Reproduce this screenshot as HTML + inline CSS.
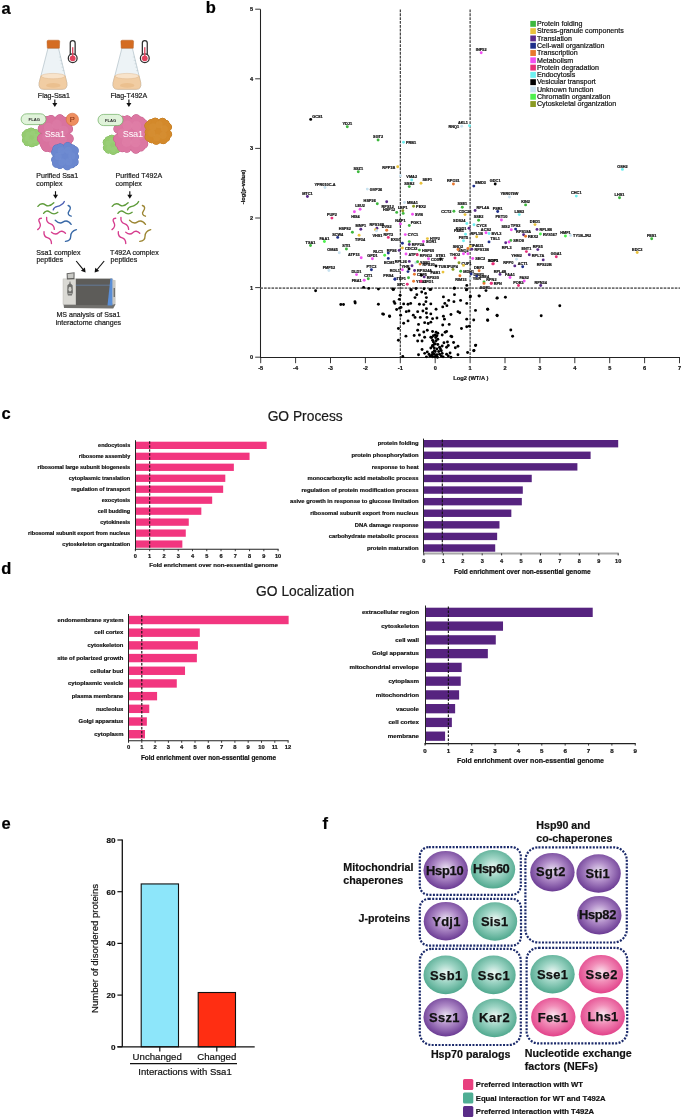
<!DOCTYPE html>
<html><head><meta charset="utf-8"><title>Figure</title>
<style>
html,body{margin:0;padding:0;background:#fff;}
body{width:685px;height:1120px;overflow:hidden;font-family:"Liberation Sans",sans-serif;}
svg{display:block;font-family:"Liberation Sans",sans-serif;will-change:transform;}
</style></head><body>
<svg width="685" height="1120" viewBox="0 0 685 1120">
<rect width="685" height="1120" fill="#fff"/>
<text x="1.5" y="13.6" font-size="16.5" font-weight="bold" text-anchor="start" fill="#000" stroke="#000" stroke-width="0.2">a</text>
<text x="205.8" y="13.4" font-size="16.5" font-weight="bold" text-anchor="start" fill="#000" stroke="#000" stroke-width="0.2">b</text>
<text x="1.5" y="419" font-size="16.5" font-weight="bold" text-anchor="start" fill="#000" stroke="#000" stroke-width="0.2">c</text>
<text x="1.2" y="574.2" font-size="16.5" font-weight="bold" text-anchor="start" fill="#000" stroke="#000" stroke-width="0.2">d</text>
<text x="1.5" y="828.6" font-size="16.5" font-weight="bold" text-anchor="start" fill="#000" stroke="#000" stroke-width="0.2">e</text>
<text x="322.5" y="829.2" font-size="16.5" font-weight="bold" text-anchor="start" fill="#000" stroke="#000" stroke-width="0.2">f</text>
<path d="M48 48.2 L39.2 82.6 Q38.2 89.3 43.8 89.3 L62.3 89.3 Q67.8 89.3 66.8 82.6 L58.5 48.2 Z" fill="#EDF3F6" stroke="#9DB0BA" stroke-width="0.55"/><path d="M41 75.8 L39.2 82.6 Q38.2 89.3 43.8 89.3 L62.3 89.3 Q67.8 89.3 66.8 82.6 L65.1 75.8 Z" fill="#F1CDA3" stroke="#D8AF82" stroke-width="0.5"/><ellipse cx="53.1" cy="76.1" rx="11.9" ry="2.7" fill="#F8E3CA" stroke="#DDB58A" stroke-width="0.45"/><ellipse cx="53.3" cy="85.4" rx="7.2" ry="2.3" fill="#EBC08F"/><line x1="58.9" y1="57" x2="60.9" y2="57" stroke="#AFC0C8" stroke-width="0.4"/><line x1="59.75" y1="60.4" x2="61.75" y2="60.4" stroke="#AFC0C8" stroke-width="0.4"/><line x1="60.6" y1="63.8" x2="62.6" y2="63.8" stroke="#AFC0C8" stroke-width="0.4"/><line x1="61.45" y1="67.2" x2="63.45" y2="67.2" stroke="#AFC0C8" stroke-width="0.4"/><line x1="62.3" y1="70.6" x2="64.3" y2="70.6" stroke="#AFC0C8" stroke-width="0.4"/><path d="M47 41.5 Q47 40.2 48.5 40.2 L58.1 40.2 Q59.7 40.2 59.7 41.5 L59.4 48.2 L47.3 48.2 Z" fill="#D46C22" stroke="#B65C1C" stroke-width="0.45"/><rect x="70.25" y="40.6" width="4.9" height="18" rx="2.45" fill="#fff" stroke="#2f2f2f" stroke-width="1.25"/><circle cx="72.7" cy="58.3" r="4.4" fill="#fff" stroke="#2f2f2f" stroke-width="1.25"/><rect x="70.85" y="55.5" width="3.7" height="3" fill="#fff"/><circle cx="72.7" cy="58.3" r="2.9" fill="#E2435E"/><rect x="72.05" y="47.2" width="1.3" height="10" fill="#E2435E"/>
<path d="M121.9 48.2 L113.1 82.6 Q112.1 89.3 117.7 89.3 L136.2 89.3 Q141.7 89.3 140.7 82.6 L132.4 48.2 Z" fill="#EDF3F6" stroke="#9DB0BA" stroke-width="0.55"/><path d="M114.9 75.8 L113.1 82.6 Q112.1 89.3 117.7 89.3 L136.2 89.3 Q141.7 89.3 140.7 82.6 L139 75.8 Z" fill="#F1CDA3" stroke="#D8AF82" stroke-width="0.5"/><ellipse cx="127" cy="76.1" rx="11.9" ry="2.7" fill="#F8E3CA" stroke="#DDB58A" stroke-width="0.45"/><ellipse cx="127.2" cy="85.4" rx="7.2" ry="2.3" fill="#EBC08F"/><line x1="132.8" y1="57" x2="134.8" y2="57" stroke="#AFC0C8" stroke-width="0.4"/><line x1="133.65" y1="60.4" x2="135.65" y2="60.4" stroke="#AFC0C8" stroke-width="0.4"/><line x1="134.5" y1="63.8" x2="136.5" y2="63.8" stroke="#AFC0C8" stroke-width="0.4"/><line x1="135.35" y1="67.2" x2="137.35" y2="67.2" stroke="#AFC0C8" stroke-width="0.4"/><line x1="136.2" y1="70.6" x2="138.2" y2="70.6" stroke="#AFC0C8" stroke-width="0.4"/><path d="M120.9 41.5 Q120.9 40.2 122.4 40.2 L132 40.2 Q133.6 40.2 133.6 41.5 L133.3 48.2 L121.2 48.2 Z" fill="#D46C22" stroke="#B65C1C" stroke-width="0.45"/><rect x="142.35" y="40.6" width="4.9" height="18" rx="2.45" fill="#fff" stroke="#2f2f2f" stroke-width="1.25"/><circle cx="144.8" cy="58.3" r="4.4" fill="#fff" stroke="#2f2f2f" stroke-width="1.25"/><rect x="142.95" y="55.5" width="3.7" height="3" fill="#fff"/><circle cx="144.8" cy="58.3" r="2.9" fill="#E2435E"/><rect x="144.15" y="47.2" width="1.3" height="10" fill="#E2435E"/>
<text x="53.9" y="98" font-size="7.05" text-anchor="middle" fill="#1a1a1a" stroke="#1a1a1a" stroke-width="0.2">Flag-Ssa1</text>
<text x="128.8" y="98" font-size="7.05" text-anchor="middle" fill="#1a1a1a" stroke="#1a1a1a" stroke-width="0.2">Flag-T492A</text>
<line x1="54.8" y1="99.6" x2="54.8" y2="103.5" stroke="#111" stroke-width="1.15"/><path d="M54.8 107L52.3 103L57.3 103Z" fill="#111"/>
<line x1="128.9" y1="99.6" x2="128.9" y2="103.5" stroke="#111" stroke-width="1.15"/><path d="M128.9 107L126.4 103L131.4 103Z" fill="#111"/>
<g fill="#7FB85C" stroke="#7FB85C" stroke-width="1"><rect x="25.16" y="131.46" width="12.68" height="12.08" rx="3.4"/><circle cx="37.32" cy="140.03" r="3.81"/><circle cx="35.76" cy="142.41" r="3.04"/><circle cx="31.85" cy="143.2" r="3.64"/><circle cx="27.35" cy="142.48" r="3.33"/><circle cx="25.72" cy="140.18" r="3.29"/><circle cx="25.68" cy="134.97" r="3.67"/><circle cx="27.24" cy="132.59" r="3.03"/><circle cx="31.15" cy="131.8" r="3.81"/><circle cx="35.65" cy="132.52" r="3.03"/><circle cx="37.28" cy="134.82" r="3.65"/></g><g fill="#95CB70"><rect x="25.16" y="131.46" width="12.68" height="12.08" rx="3.4"/><circle cx="37.32" cy="140.03" r="3.81"/><circle cx="35.76" cy="142.41" r="3.04"/><circle cx="31.85" cy="143.2" r="3.64"/><circle cx="27.35" cy="142.48" r="3.33"/><circle cx="25.72" cy="140.18" r="3.29"/><circle cx="25.68" cy="134.97" r="3.67"/><circle cx="27.24" cy="132.59" r="3.03"/><circle cx="31.15" cy="131.8" r="3.81"/><circle cx="35.65" cy="132.52" r="3.03"/><circle cx="37.28" cy="134.82" r="3.65"/></g><circle cx="34.77" cy="140.76" r="2.55" fill="#A8D68A" opacity="0.25"/><circle cx="30.22" cy="141.88" r="2.55" fill="#A8D68A" opacity="0.25"/><circle cx="26.94" cy="138.61" r="2.55" fill="#A8D68A" opacity="0.25"/><circle cx="28.23" cy="134.24" r="2.55" fill="#A8D68A" opacity="0.25"/><circle cx="32.78" cy="133.12" r="2.55" fill="#A8D68A" opacity="0.25"/><circle cx="36.06" cy="136.39" r="2.55" fill="#A8D68A" opacity="0.25"/>
<g fill="#C65C8B" stroke="#C65C8B" stroke-width="1"><rect x="41.76" y="118.96" width="27.28" height="29.68" rx="4.4"/><circle cx="68.42" cy="138.7" r="4.84"/><circle cx="67.05" cy="143.57" r="4.12"/><circle cx="64.29" cy="146.55" r="4.46"/><circle cx="59.79" cy="148.02" r="4.57"/><circle cx="50.91" cy="148.01" r="4.03"/><circle cx="46.45" cy="146.51" r="4.89"/><circle cx="43.71" cy="143.5" r="3.87"/><circle cx="42.36" cy="138.58" r="4.86"/><circle cx="42.38" cy="128.9" r="4.1"/><circle cx="43.75" cy="124.03" r="4.49"/><circle cx="46.51" cy="121.05" r="4.54"/><circle cx="51.01" cy="119.58" r="4.05"/><circle cx="59.89" cy="119.59" r="4.88"/><circle cx="64.35" cy="121.09" r="3.87"/><circle cx="67.09" cy="124.1" r="4.87"/><circle cx="68.44" cy="129.02" r="4.08"/></g><g fill="#D9739F"><rect x="41.76" y="118.96" width="27.28" height="29.68" rx="4.4"/><circle cx="68.42" cy="138.7" r="4.84"/><circle cx="67.05" cy="143.57" r="4.12"/><circle cx="64.29" cy="146.55" r="4.46"/><circle cx="59.79" cy="148.02" r="4.57"/><circle cx="50.91" cy="148.01" r="4.03"/><circle cx="46.45" cy="146.51" r="4.89"/><circle cx="43.71" cy="143.5" r="3.87"/><circle cx="42.36" cy="138.58" r="4.86"/><circle cx="42.38" cy="128.9" r="4.1"/><circle cx="43.75" cy="124.03" r="4.49"/><circle cx="46.51" cy="121.05" r="4.54"/><circle cx="51.01" cy="119.58" r="4.05"/><circle cx="59.89" cy="119.59" r="4.88"/><circle cx="64.35" cy="121.09" r="3.87"/><circle cx="67.09" cy="124.1" r="4.87"/><circle cx="68.44" cy="129.02" r="4.08"/></g><circle cx="62.13" cy="139.86" r="4.93" fill="#E48BB2" opacity="0.25"/><circle cx="53.86" cy="143.05" r="4.93" fill="#E48BB2" opacity="0.25"/><circle cx="47.13" cy="137" r="4.93" fill="#E48BB2" opacity="0.25"/><circle cx="48.67" cy="127.74" r="4.93" fill="#E48BB2" opacity="0.25"/><circle cx="56.94" cy="124.55" r="4.93" fill="#E48BB2" opacity="0.25"/><circle cx="63.67" cy="130.6" r="4.93" fill="#E48BB2" opacity="0.25"/>
<g fill="#5874BE" stroke="#5874BE" stroke-width="1"><rect x="54.72" y="146.42" width="20.56" height="19.56" rx="3.8"/><circle cx="74.07" cy="161.96" r="4.07"/><circle cx="71.68" cy="164.52" r="3.4"/><circle cx="67.19" cy="165.57" r="4.26"/><circle cx="59.9" cy="165.15" r="3.38"/><circle cx="56.76" cy="163.26" r="4.11"/><circle cx="55.27" cy="159.66" r="3.67"/><circle cx="55.32" cy="152.42" r="3.73"/><circle cx="56.92" cy="148.96" r="4.05"/><circle cx="60.19" cy="147.17" r="3.41"/><circle cx="67.63" cy="146.86" r="4.25"/><circle cx="71.9" cy="148.01" r="3.37"/><circle cx="74.18" cy="150.68" r="4.12"/><circle cx="74.9" cy="156.81" r="3.65"/></g><g fill="#6A87CF"><rect x="54.72" y="146.42" width="20.56" height="19.56" rx="3.8"/><circle cx="74.07" cy="161.96" r="4.07"/><circle cx="71.68" cy="164.52" r="3.4"/><circle cx="67.19" cy="165.57" r="4.26"/><circle cx="59.9" cy="165.15" r="3.38"/><circle cx="56.76" cy="163.26" r="4.11"/><circle cx="55.27" cy="159.66" r="3.67"/><circle cx="55.32" cy="152.42" r="3.73"/><circle cx="56.92" cy="148.96" r="4.05"/><circle cx="60.19" cy="147.17" r="3.41"/><circle cx="67.63" cy="146.86" r="4.25"/><circle cx="71.9" cy="148.01" r="3.37"/><circle cx="74.18" cy="150.68" r="4.12"/><circle cx="74.9" cy="156.81" r="3.65"/></g><circle cx="68.7" cy="161.75" r="3.7" fill="#7C97D8" opacity="0.25"/><circle cx="61.86" cy="162.07" r="3.7" fill="#7C97D8" opacity="0.25"/><circle cx="58.16" cy="156.51" r="3.7" fill="#7C97D8" opacity="0.25"/><circle cx="61.3" cy="150.65" r="3.7" fill="#7C97D8" opacity="0.25"/><circle cx="68.14" cy="150.33" r="3.7" fill="#7C97D8" opacity="0.25"/><circle cx="71.84" cy="155.89" r="3.7" fill="#7C97D8" opacity="0.25"/>
<rect x="21.1" y="113.8" width="24.9" height="10.8" rx="5.4" fill="#E0F3DA" stroke="#6CAE5F" stroke-width="0.7"/>
<text x="34.3" y="120.8" font-size="4.2" font-weight="bold" text-anchor="middle" fill="#2a2a2a">FLAG</text>
<circle cx="72.3" cy="119.4" r="6.2" fill="#EE8E5F" stroke="#D36B3C" stroke-width="0.6"/>
<text x="72.3" y="122.3" font-size="7.6" text-anchor="middle" fill="#8A3515" stroke="#8A3515" stroke-width="0.1">P</text>
<text x="44.7" y="136.6" font-size="9.2" fill="#fff" letter-spacing="-0.2">Ssa1</text>
<g fill="#7FB85C" stroke="#7FB85C" stroke-width="1"><rect x="106.16" y="138.56" width="12.68" height="12.48" rx="3.4"/><circle cx="116.87" cy="149.81" r="3"/><circle cx="113.23" cy="150.7" r="3.72"/><circle cx="108.46" cy="150.02" r="3.21"/><circle cx="106.75" cy="147.73" r="3.41"/><circle cx="106.65" cy="142.35" r="3.56"/><circle cx="108.13" cy="139.79" r="3.09"/><circle cx="111.77" cy="138.9" r="3.79"/><circle cx="116.54" cy="139.58" r="3"/><circle cx="118.25" cy="141.87" r="3.74"/><circle cx="118.35" cy="147.25" r="3.2"/></g><g fill="#95CB70"><rect x="106.16" y="138.56" width="12.68" height="12.48" rx="3.4"/><circle cx="116.87" cy="149.81" r="3"/><circle cx="113.23" cy="150.7" r="3.72"/><circle cx="108.46" cy="150.02" r="3.21"/><circle cx="106.75" cy="147.73" r="3.41"/><circle cx="106.65" cy="142.35" r="3.56"/><circle cx="108.13" cy="139.79" r="3.09"/><circle cx="111.77" cy="138.9" r="3.79"/><circle cx="116.54" cy="139.58" r="3"/><circle cx="118.25" cy="141.87" r="3.74"/><circle cx="118.35" cy="147.25" r="3.2"/></g><circle cx="113.3" cy="149.38" r="2.6" fill="#A8D68A" opacity="0.25"/><circle cx="108.89" cy="147.78" r="2.6" fill="#A8D68A" opacity="0.25"/><circle cx="108.09" cy="143.19" r="2.6" fill="#A8D68A" opacity="0.25"/><circle cx="111.7" cy="140.22" r="2.6" fill="#A8D68A" opacity="0.25"/><circle cx="116.11" cy="141.82" r="2.6" fill="#A8D68A" opacity="0.25"/><circle cx="116.91" cy="146.41" r="2.6" fill="#A8D68A" opacity="0.25"/>
<g fill="#C65C8B" stroke="#C65C8B" stroke-width="1"><rect x="117.66" y="118.96" width="27.68" height="30.08" rx="4.4"/><circle cx="143.29" cy="143.97" r="4.47"/><circle cx="140.46" cy="146.97" r="4.11"/><circle cx="135.84" cy="148.43" r="4.85"/><circle cx="126.83" cy="148.39" r="3.87"/><circle cx="122.35" cy="146.85" r="4.9"/><circle cx="119.59" cy="143.76" r="4.02"/><circle cx="118.25" cy="138.73" r="4.58"/><circle cx="118.29" cy="128.91" r="4.45"/><circle cx="119.71" cy="124.03" r="4.13"/><circle cx="122.54" cy="121.03" r="4.84"/><circle cx="127.16" cy="119.57" r="3.88"/><circle cx="136.17" cy="119.61" r="4.91"/><circle cx="140.65" cy="121.15" r="4.01"/><circle cx="143.41" cy="124.24" r="4.61"/><circle cx="144.75" cy="129.27" r="4.42"/><circle cx="144.71" cy="139.09" r="4.16"/></g><g fill="#DC77A2"><rect x="117.66" y="118.96" width="27.68" height="30.08" rx="4.4"/><circle cx="143.29" cy="143.97" r="4.47"/><circle cx="140.46" cy="146.97" r="4.11"/><circle cx="135.84" cy="148.43" r="4.85"/><circle cx="126.83" cy="148.39" r="3.87"/><circle cx="122.35" cy="146.85" r="4.9"/><circle cx="119.59" cy="143.76" r="4.02"/><circle cx="118.25" cy="138.73" r="4.58"/><circle cx="118.29" cy="128.91" r="4.45"/><circle cx="119.71" cy="124.03" r="4.13"/><circle cx="122.54" cy="121.03" r="4.84"/><circle cx="127.16" cy="119.57" r="3.88"/><circle cx="136.17" cy="119.61" r="4.91"/><circle cx="140.65" cy="121.15" r="4.01"/><circle cx="143.41" cy="124.24" r="4.61"/><circle cx="144.75" cy="129.27" r="4.42"/><circle cx="144.71" cy="139.09" r="4.16"/></g><circle cx="135.54" cy="142.47" r="4.98" fill="#E68FB5" opacity="0.25"/><circle cx="126.65" cy="141.97" r="4.98" fill="#E68FB5" opacity="0.25"/><circle cx="122.61" cy="133.5" r="4.98" fill="#E68FB5" opacity="0.25"/><circle cx="127.46" cy="125.53" r="4.98" fill="#E68FB5" opacity="0.25"/><circle cx="136.35" cy="126.03" r="4.98" fill="#E68FB5" opacity="0.25"/><circle cx="140.39" cy="134.5" r="4.98" fill="#E68FB5" opacity="0.25"/>
<g fill="#BD761C" stroke="#BD761C" stroke-width="1"><rect x="148.02" y="121.42" width="19.96" height="19.36" rx="3.8"/><circle cx="167.47" cy="134.27" r="4.18"/><circle cx="166.1" cy="137.94" r="3.56"/><circle cx="163.15" cy="139.89" r="3.85"/><circle cx="156.23" cy="140.38" r="3.95"/><circle cx="151.69" cy="139.42" r="3.48"/><circle cx="149.28" cy="136.97" r="4.23"/><circle cx="148.41" cy="132.22" r="3.35"/><circle cx="149.02" cy="125.82" r="4.2"/><circle cx="151.16" cy="123.09" r="3.54"/><circle cx="155.15" cy="121.88" r="3.88"/><circle cx="162.45" cy="122.12" r="3.92"/><circle cx="165.71" cy="123.81" r="3.5"/><circle cx="167.34" cy="127.12" r="4.22"/></g><g fill="#D3892B"><rect x="148.02" y="121.42" width="19.96" height="19.36" rx="3.8"/><circle cx="167.47" cy="134.27" r="4.18"/><circle cx="166.1" cy="137.94" r="3.56"/><circle cx="163.15" cy="139.89" r="3.85"/><circle cx="156.23" cy="140.38" r="3.95"/><circle cx="151.69" cy="139.42" r="3.48"/><circle cx="149.28" cy="136.97" r="4.23"/><circle cx="148.41" cy="132.22" r="3.35"/><circle cx="149.02" cy="125.82" r="4.2"/><circle cx="151.16" cy="123.09" r="3.54"/><circle cx="155.15" cy="121.88" r="3.88"/><circle cx="162.45" cy="122.12" r="3.92"/><circle cx="165.71" cy="123.81" r="3.5"/><circle cx="167.34" cy="127.12" r="4.22"/></g><circle cx="163.12" cy="135.32" r="3.67" fill="#DD9A45" opacity="0.25"/><circle cx="156.82" cy="137.55" r="3.67" fill="#DD9A45" opacity="0.25"/><circle cx="151.7" cy="133.33" r="3.67" fill="#DD9A45" opacity="0.25"/><circle cx="152.88" cy="126.88" r="3.67" fill="#DD9A45" opacity="0.25"/><circle cx="159.18" cy="124.65" r="3.67" fill="#DD9A45" opacity="0.25"/><circle cx="164.3" cy="128.87" r="3.67" fill="#DD9A45" opacity="0.25"/>
<rect x="98" y="114.4" width="25" height="11.2" rx="5.6" fill="#E0F3DA" stroke="#6CAE5F" stroke-width="0.7"/>
<text x="110.6" y="121.6" font-size="4.2" font-weight="bold" text-anchor="middle" fill="#2a2a2a">FLAG</text>
<text x="122.8" y="136.6" font-size="9.2" fill="#fff" letter-spacing="-0.2">Ssa1</text>
<text x="36.3" y="178" font-size="7.05" text-anchor="start" fill="#1a1a1a" stroke="#1a1a1a" stroke-width="0.2">Purified Ssa1</text>
<text x="36.3" y="185.7" font-size="7.05" text-anchor="start" fill="#1a1a1a" stroke="#1a1a1a" stroke-width="0.2">complex</text>
<text x="115.6" y="177.6" font-size="7.05" text-anchor="start" fill="#1a1a1a" stroke="#1a1a1a" stroke-width="0.2">Purified T492A</text>
<text x="115.6" y="185.8" font-size="7.05" text-anchor="start" fill="#1a1a1a" stroke="#1a1a1a" stroke-width="0.2">complex</text>
<line x1="55.5" y1="191.2" x2="55.5" y2="195.3" stroke="#111" stroke-width="1.15"/><path d="M55.5 198.8L53 194.8L58 194.8Z" fill="#111"/>
<line x1="129.8" y1="191.2" x2="129.8" y2="195.3" stroke="#111" stroke-width="1.15"/><path d="M129.8 198.8L127.3 194.8L132.3 194.8Z" fill="#111"/>
<g transform="translate(30 195) scale(0.08759)" fill="none" stroke-width="15.5" stroke-linecap="round"><path d="M90,130 C120,90 150,95 180,115 C210,135 240,120 272,88" stroke="#5E9B3A"/><path d="M265,170 C275,130 310,135 335,125 C360,115 380,110 392,75" stroke="#4D5FB4"/><path d="M435,120 C470,130 465,160 445,185 C425,210 440,235 470,242" stroke="#3868A6"/><path d="M155,210 C175,180 200,175 225,195 C250,215 285,225 318,198" stroke="#5E9B3A"/><path d="M130,265 C95,265 95,290 110,315 C125,340 120,370 88,395" stroke="#D63D8E"/><path d="M190,255 C185,300 200,320 235,330 C265,340 275,360 278,392" stroke="#D63D8E"/><path d="M288,288 C310,310 340,335 375,310 C410,285 445,300 470,335" stroke="#3868A6"/><path d="M160,420 C155,460 170,480 205,490 C240,500 245,525 245,555" stroke="#D63D8E"/><path d="M245,425 C270,445 300,455 325,430 C350,405 380,410 405,437" stroke="#D63D8E"/><path d="M405,530 C445,525 465,510 465,470 C465,430 495,405 530,395" stroke="#3868A6"/></g>
<g transform="translate(104.3 195) scale(0.08759)" fill="none" stroke-width="15.5" stroke-linecap="round"><path d="M90,130 C120,90 150,95 180,115 C210,135 240,120 272,88" stroke="#5E9B3A"/><path d="M265,170 C275,130 310,135 335,125 C360,115 380,110 392,75" stroke="#5E9B3A"/><path d="M435,120 C470,130 465,160 445,185 C425,210 440,235 470,242" stroke="#9C8633"/><path d="M155,210 C175,180 200,175 225,195 C250,215 285,225 318,198" stroke="#5E9B3A"/><path d="M130,265 C95,265 95,290 110,315 C125,340 120,370 88,395" stroke="#D63D8E"/><path d="M190,255 C185,300 200,320 235,330 C265,340 275,360 278,392" stroke="#D63D8E"/><path d="M288,288 C310,310 340,335 375,310 C410,285 445,300 470,335" stroke="#9C8633"/><path d="M160,420 C155,460 170,480 205,490 C240,500 245,525 245,555" stroke="#D63D8E"/><path d="M245,425 C270,445 300,455 325,430 C350,405 380,410 405,437" stroke="#D63D8E"/><path d="M405,530 C445,525 465,510 465,470 C465,430 495,405 530,395" stroke="#9C8633"/></g>
<text x="36.2" y="254.9" font-size="7.05" text-anchor="start" fill="#1a1a1a" stroke="#1a1a1a" stroke-width="0.2">Ssa1 complex</text>
<text x="36.4" y="262.2" font-size="7.05" text-anchor="start" fill="#1a1a1a" stroke="#1a1a1a" stroke-width="0.2">peptides</text>
<text x="110.1" y="254.9" font-size="7.05" text-anchor="start" fill="#1a1a1a" stroke="#1a1a1a" stroke-width="0.2">T492A complex</text>
<text x="110.6" y="262.2" font-size="7.05" text-anchor="start" fill="#1a1a1a" stroke="#1a1a1a" stroke-width="0.2">peptides</text>
<line x1="76.2" y1="261" x2="83.25" y2="269.55" stroke="#111" stroke-width="1.15"/><path d="M85.6 272.4L80.92 270.81L84.93 267.51Z" fill="#111"/>
<line x1="104.2" y1="261" x2="96.96" y2="269.75" stroke="#111" stroke-width="1.15"/><path d="M94.6 272.6L95.27 267.71L99.28 271.02Z" fill="#111"/>
<path d="M63.4 303.6 L112.5 303.6 L115.6 304.2 L113.2 308.6 L64.0 307.9 Z" fill="#72716E"/>
<rect x="63" y="278.9" width="13" height="25.8" fill="#DAD9D4" stroke="#B3B2AD" stroke-width="0.4"/>
<rect x="75.9" y="278.6" width="36.5" height="26.5" fill="#5D5C59"/>
<path d="M112.3 279.4 L115.6 280.3 L115.6 303.8 L112.3 305 Z" fill="#C9C8C3"/>
<rect x="113.6" y="288" width="1.3" height="9" fill="#6a6a67"/>
<line x1="75.9" y1="285.2" x2="110.8" y2="285.2" stroke="#6B98D6" stroke-width="0.5"/>
<path d="M110.4 278.5 L112.4 278.8 L112.4 305.4 L107.5 305.4 Z" fill="#5A8ED6"/>
<path d="M66.6 273.2 L74.6 272.2 L74.5 279.2 L66.9 279.6 Z" fill="#5E5E5C"/>
<path d="M67.6 274.0 L73.6 273.3 L73.5 278.0 L67.8 278.3 Z" fill="#C9C9C5"/>
<path d="M69.6 281.4 L70.4 281.4 L70.6 283.6 L72.6 285.2 L72.9 292.5 L71.8 295.6 L67.9 295.6 L67.2 292.5 L67.4 285.2 L69.4 283.6 Z" fill="#6F6F6C"/>
<ellipse cx="70" cy="289.2" rx="1.5" ry="2.4" fill="#CFCFCA"/>
<rect x="68.2" y="293" width="3.6" height="1.2" fill="#A9A9A5"/>
<text x="88.4" y="317.4" font-size="7.05" text-anchor="middle" fill="#1a1a1a" stroke="#1a1a1a" stroke-width="0.2">MS analysis of Ssa1</text>
<text x="88.4" y="325.4" font-size="7.05" text-anchor="middle" fill="#1a1a1a" stroke="#1a1a1a" stroke-width="0.2">interactome changes</text>
<line x1="260.5" y1="9.2" x2="260.5" y2="358" stroke="#222" stroke-width="1.05"/>
<line x1="260" y1="357.5" x2="680" y2="357.5" stroke="#222" stroke-width="1.05"/>
<line x1="255.2" y1="357.2" x2="260.4" y2="357.2" stroke="#222" stroke-width="0.9"/>
<text x="253" y="359.1" font-size="5.6" font-weight="bold" text-anchor="end" fill="#111" stroke="#111" stroke-width="0.2">0</text>
<line x1="255.2" y1="287.6" x2="260.4" y2="287.6" stroke="#222" stroke-width="0.9"/>
<text x="253" y="289.5" font-size="5.6" font-weight="bold" text-anchor="end" fill="#111" stroke="#111" stroke-width="0.2">1</text>
<line x1="255.2" y1="218" x2="260.4" y2="218" stroke="#222" stroke-width="0.9"/>
<text x="253" y="219.9" font-size="5.6" font-weight="bold" text-anchor="end" fill="#111" stroke="#111" stroke-width="0.2">2</text>
<line x1="255.2" y1="148.4" x2="260.4" y2="148.4" stroke="#222" stroke-width="0.9"/>
<text x="253" y="150.3" font-size="5.6" font-weight="bold" text-anchor="end" fill="#111" stroke="#111" stroke-width="0.2">3</text>
<line x1="255.2" y1="78.8" x2="260.4" y2="78.8" stroke="#222" stroke-width="0.9"/>
<text x="253" y="80.7" font-size="5.6" font-weight="bold" text-anchor="end" fill="#111" stroke="#111" stroke-width="0.2">4</text>
<line x1="255.2" y1="9.2" x2="260.4" y2="9.2" stroke="#222" stroke-width="0.9"/>
<text x="253" y="11.1" font-size="5.6" font-weight="bold" text-anchor="end" fill="#111" stroke="#111" stroke-width="0.2">5</text>
<line x1="260.7" y1="357.2" x2="260.7" y2="363.2" stroke="#222" stroke-width="0.9"/>
<text x="260.7" y="369.9" font-size="5.6" font-weight="bold" text-anchor="middle" fill="#111" stroke="#111" stroke-width="0.2">-5</text>
<line x1="295.6" y1="357.2" x2="295.6" y2="363.2" stroke="#222" stroke-width="0.9"/>
<text x="295.6" y="369.9" font-size="5.6" font-weight="bold" text-anchor="middle" fill="#111" stroke="#111" stroke-width="0.2">-4</text>
<line x1="330.5" y1="357.2" x2="330.5" y2="363.2" stroke="#222" stroke-width="0.9"/>
<text x="330.5" y="369.9" font-size="5.6" font-weight="bold" text-anchor="middle" fill="#111" stroke="#111" stroke-width="0.2">-3</text>
<line x1="365.4" y1="357.2" x2="365.4" y2="363.2" stroke="#222" stroke-width="0.9"/>
<text x="365.4" y="369.9" font-size="5.6" font-weight="bold" text-anchor="middle" fill="#111" stroke="#111" stroke-width="0.2">-2</text>
<line x1="400.3" y1="357.2" x2="400.3" y2="363.2" stroke="#222" stroke-width="0.9"/>
<text x="400.3" y="369.9" font-size="5.6" font-weight="bold" text-anchor="middle" fill="#111" stroke="#111" stroke-width="0.2">-1</text>
<line x1="435.2" y1="357.2" x2="435.2" y2="363.2" stroke="#222" stroke-width="0.9"/>
<text x="435.2" y="369.9" font-size="5.6" font-weight="bold" text-anchor="middle" fill="#111" stroke="#111" stroke-width="0.2">0</text>
<line x1="470.1" y1="357.2" x2="470.1" y2="363.2" stroke="#222" stroke-width="0.9"/>
<text x="470.1" y="369.9" font-size="5.6" font-weight="bold" text-anchor="middle" fill="#111" stroke="#111" stroke-width="0.2">1</text>
<line x1="505" y1="357.2" x2="505" y2="363.2" stroke="#222" stroke-width="0.9"/>
<text x="505" y="369.9" font-size="5.6" font-weight="bold" text-anchor="middle" fill="#111" stroke="#111" stroke-width="0.2">2</text>
<line x1="539.9" y1="357.2" x2="539.9" y2="363.2" stroke="#222" stroke-width="0.9"/>
<text x="539.9" y="369.9" font-size="5.6" font-weight="bold" text-anchor="middle" fill="#111" stroke="#111" stroke-width="0.2">3</text>
<line x1="574.8" y1="357.2" x2="574.8" y2="363.2" stroke="#222" stroke-width="0.9"/>
<text x="574.8" y="369.9" font-size="5.6" font-weight="bold" text-anchor="middle" fill="#111" stroke="#111" stroke-width="0.2">4</text>
<line x1="609.7" y1="357.2" x2="609.7" y2="363.2" stroke="#222" stroke-width="0.9"/>
<text x="609.7" y="369.9" font-size="5.6" font-weight="bold" text-anchor="middle" fill="#111" stroke="#111" stroke-width="0.2">5</text>
<line x1="644.6" y1="357.2" x2="644.6" y2="363.2" stroke="#222" stroke-width="0.9"/>
<text x="644.6" y="369.9" font-size="5.6" font-weight="bold" text-anchor="middle" fill="#111" stroke="#111" stroke-width="0.2">6</text>
<line x1="679.5" y1="357.2" x2="679.5" y2="363.2" stroke="#222" stroke-width="0.9"/>
<text x="679.5" y="369.9" font-size="5.6" font-weight="bold" text-anchor="middle" fill="#111" stroke="#111" stroke-width="0.2">7</text>
<text x="470.8" y="380.2" font-size="5.75" font-weight="bold" text-anchor="middle" fill="#111" stroke="#111" stroke-width="0.2">Log2 (WT/A )</text>
<text x="0" y="0" font-size="5.75" font-weight="bold" text-anchor="middle" fill="#111" stroke="#111" stroke-width="0.2" transform="translate(245.2 187) rotate(-90)">-log(p-value)</text>
<line x1="400.3" y1="9.5" x2="400.3" y2="357.2" stroke="#222" stroke-width="1.05" stroke-dasharray="2.8 1.05"/>
<line x1="470.1" y1="9.5" x2="470.1" y2="357.2" stroke="#222" stroke-width="1.05" stroke-dasharray="2.8 1.05"/>
<line x1="260.4" y1="288.1" x2="680" y2="288.1" stroke="#707070" stroke-width="1.9" stroke-dasharray="2.6 1.1"/>
<circle cx="315.6" cy="290.7" r="1.45"/>
<circle cx="340.8" cy="304.5" r="1.45"/>
<circle cx="343.5" cy="304.5" r="1.45"/>
<circle cx="354.9" cy="301.8" r="1.45"/>
<circle cx="355.2" cy="303" r="1.45"/>
<circle cx="378.4" cy="304.2" r="1.45"/>
<circle cx="363.6" cy="287.4" r="1.45"/>
<circle cx="368.7" cy="288.4" r="1.45"/>
<circle cx="378.4" cy="289.1" r="1.45"/>
<circle cx="383.5" cy="314.3" r="1.45"/>
<circle cx="389.5" cy="315.9" r="1.45"/>
<circle cx="393.5" cy="289.4" r="1.45"/>
<circle cx="466.8" cy="285.4" r="1.45"/>
<circle cx="470.4" cy="296.1" r="1.45"/>
<circle cx="479.3" cy="296.1" r="1.45"/>
<circle cx="497.2" cy="297.9" r="1.45"/>
<circle cx="505.4" cy="297.2" r="1.45"/>
<circle cx="559.8" cy="305.8" r="1.45"/>
<circle cx="487.6" cy="309.3" r="1.45"/>
<circle cx="541.2" cy="315.8" r="1.45"/>
<circle cx="497.2" cy="315.8" r="1.45"/>
<circle cx="487.6" cy="320" r="1.45"/>
<circle cx="510.8" cy="330" r="1.45"/>
<circle cx="512.6" cy="336.2" r="1.45"/>
<circle cx="475.8" cy="345.1" r="1.45"/>
<circle cx="474" cy="350.5" r="1.45"/>
<circle cx="392.9" cy="289" r="1.45"/>
<circle cx="410.9" cy="289.8" r="1.45"/>
<circle cx="430" cy="289.5" r="1.45"/>
<circle cx="454.2" cy="288.2" r="1.45"/>
<circle cx="466.8" cy="289.5" r="1.45"/>
<circle cx="416" cy="288.5" r="1.45"/>
<circle cx="424" cy="288.8" r="1.45"/>
<circle cx="393.14" cy="289.38" r="1.45"/>
<circle cx="411.18" cy="289.91" r="1.45"/>
<circle cx="430.81" cy="289.38" r="1.45"/>
<circle cx="454.46" cy="288.15" r="1.45"/>
<circle cx="466.37" cy="289.91" r="1.45"/>
<circle cx="485.99" cy="290.61" r="1.45"/>
<circle cx="400.15" cy="295.16" r="1.45"/>
<circle cx="416.79" cy="294.64" r="1.45"/>
<circle cx="421.7" cy="292.01" r="1.45"/>
<circle cx="425.55" cy="293.41" r="1.45"/>
<circle cx="426.43" cy="297.61" r="1.45"/>
<circle cx="415.04" cy="297.61" r="1.45"/>
<circle cx="443.42" cy="296.91" r="1.45"/>
<circle cx="454.46" cy="294.64" r="1.45"/>
<circle cx="470.22" cy="296.91" r="1.45"/>
<circle cx="478.98" cy="295.86" r="1.45"/>
<circle cx="497.03" cy="298.14" r="1.45"/>
<circle cx="394.02" cy="301.64" r="1.45"/>
<circle cx="394.89" cy="303.4" r="1.45"/>
<circle cx="399.27" cy="299.37" r="1.45"/>
<circle cx="403.65" cy="303.92" r="1.45"/>
<circle cx="408.03" cy="304.27" r="1.45"/>
<circle cx="410.66" cy="303.4" r="1.45"/>
<circle cx="419.42" cy="304.27" r="1.45"/>
<circle cx="423.8" cy="304.62" r="1.45"/>
<circle cx="425.9" cy="301.64" r="1.45"/>
<circle cx="430.81" cy="303.92" r="1.45"/>
<circle cx="448.68" cy="300.42" r="1.45"/>
<circle cx="453.93" cy="301.64" r="1.45"/>
<circle cx="460.59" cy="300.42" r="1.45"/>
<circle cx="466.72" cy="303.4" r="1.45"/>
<circle cx="444.82" cy="303.4" r="1.45"/>
<circle cx="446.92" cy="305.67" r="1.45"/>
<circle cx="442.72" cy="306.9" r="1.45"/>
<circle cx="396.64" cy="309.53" r="1.45"/>
<circle cx="399.62" cy="308.13" r="1.45"/>
<circle cx="401.02" cy="307.42" r="1.45"/>
<circle cx="406.28" cy="311.63" r="1.45"/>
<circle cx="408.91" cy="310.93" r="1.45"/>
<circle cx="417.67" cy="311.63" r="1.45"/>
<circle cx="422.92" cy="310.93" r="1.45"/>
<circle cx="426.43" cy="308.65" r="1.45"/>
<circle cx="426.43" cy="313.03" r="1.45"/>
<circle cx="430.81" cy="313.91" r="1.45"/>
<circle cx="436.06" cy="309.18" r="1.45"/>
<circle cx="457.96" cy="311.63" r="1.45"/>
<circle cx="459.71" cy="312.68" r="1.45"/>
<circle cx="475.48" cy="310.4" r="1.45"/>
<circle cx="487.74" cy="309.18" r="1.45"/>
<circle cx="382.63" cy="313.91" r="1.45"/>
<circle cx="389.64" cy="316.53" r="1.45"/>
<circle cx="400.67" cy="315.13" r="1.45"/>
<circle cx="413.29" cy="315.13" r="1.45"/>
<circle cx="415.04" cy="317.41" r="1.45"/>
<circle cx="420.29" cy="317.41" r="1.45"/>
<circle cx="426.95" cy="317.41" r="1.45"/>
<circle cx="432.56" cy="318.64" r="1.45"/>
<circle cx="436.94" cy="317.94" r="1.45"/>
<circle cx="443.42" cy="316.18" r="1.45"/>
<circle cx="444.47" cy="319.16" r="1.45"/>
<circle cx="450.95" cy="314.43" r="1.45"/>
<circle cx="466.72" cy="319.16" r="1.45"/>
<circle cx="473.73" cy="320.04" r="1.45"/>
<circle cx="487.74" cy="320.39" r="1.45"/>
<circle cx="497.03" cy="315.13" r="1.45"/>
<circle cx="403.65" cy="323.19" r="1.45"/>
<circle cx="408.03" cy="320.91" r="1.45"/>
<circle cx="418.54" cy="324.42" r="1.45"/>
<circle cx="424.67" cy="322.67" r="1.45"/>
<circle cx="428.18" cy="323.54" r="1.45"/>
<circle cx="430.81" cy="322.14" r="1.45"/>
<circle cx="442.72" cy="324.94" r="1.45"/>
<circle cx="449.2" cy="324.42" r="1.45"/>
<circle cx="461.46" cy="328.45" r="1.45"/>
<circle cx="466.72" cy="326.7" r="1.45"/>
<circle cx="469.35" cy="326.17" r="1.45"/>
<circle cx="398.4" cy="328.45" r="1.45"/>
<circle cx="417.67" cy="330.2" r="1.45"/>
<circle cx="423.8" cy="331.95" r="1.45"/>
<circle cx="427.3" cy="330.2" r="1.45"/>
<circle cx="432.56" cy="331.43" r="1.45"/>
<circle cx="436.06" cy="332.3" r="1.45"/>
<circle cx="437.81" cy="333.18" r="1.45"/>
<circle cx="445.17" cy="332.3" r="1.45"/>
<circle cx="446.57" cy="331.43" r="1.45"/>
<circle cx="405.93" cy="336.16" r="1.45"/>
<circle cx="414.16" cy="335.46" r="1.45"/>
<circle cx="419.42" cy="334.93" r="1.45"/>
<circle cx="424.67" cy="337.21" r="1.45"/>
<circle cx="430.81" cy="337.21" r="1.45"/>
<circle cx="435.19" cy="334.93" r="1.45"/>
<circle cx="436.94" cy="335.81" r="1.45"/>
<circle cx="442.19" cy="334.93" r="1.45"/>
<circle cx="450.95" cy="336.16" r="1.45"/>
<circle cx="451.83" cy="336.68" r="1.45"/>
<circle cx="398.4" cy="340.19" r="1.45"/>
<circle cx="417.67" cy="341.06" r="1.45"/>
<circle cx="422.05" cy="341.06" r="1.45"/>
<circle cx="432.56" cy="340.19" r="1.45"/>
<circle cx="433.43" cy="341.94" r="1.45"/>
<circle cx="436.06" cy="340.71" r="1.45"/>
<circle cx="437.81" cy="339.31" r="1.45"/>
<circle cx="443.95" cy="342.81" r="1.45"/>
<circle cx="447.45" cy="341.94" r="1.45"/>
<circle cx="453.58" cy="342.46" r="1.45"/>
<circle cx="448.33" cy="345.44" r="1.45"/>
<circle cx="457.96" cy="346.32" r="1.45"/>
<circle cx="475.48" cy="345.44" r="1.45"/>
<circle cx="422.05" cy="349.47" r="1.45"/>
<circle cx="432.56" cy="346.32" r="1.45"/>
<circle cx="434.31" cy="348.07" r="1.45"/>
<circle cx="439.57" cy="347.19" r="1.45"/>
<circle cx="442.19" cy="345.97" r="1.45"/>
<circle cx="446.57" cy="347.19" r="1.45"/>
<circle cx="455.33" cy="347.72" r="1.45"/>
<circle cx="473.73" cy="350.7" r="1.45"/>
<circle cx="418.54" cy="354.73" r="1.45"/>
<circle cx="424.67" cy="353.33" r="1.45"/>
<circle cx="427.3" cy="351.92" r="1.45"/>
<circle cx="429.05" cy="354.2" r="1.45"/>
<circle cx="432.56" cy="352.45" r="1.45"/>
<circle cx="434.31" cy="350.7" r="1.45"/>
<circle cx="438.69" cy="351.57" r="1.45"/>
<circle cx="442.19" cy="353.33" r="1.45"/>
<circle cx="446.57" cy="354.2" r="1.45"/>
<circle cx="450.08" cy="352.97" r="1.45"/>
<circle cx="457.96" cy="354.73" r="1.45"/>
<circle cx="467.6" cy="352.45" r="1.45"/>
<circle cx="402.78" cy="356.48" r="1.45"/>
<circle cx="426.43" cy="356.83" r="1.45"/>
<circle cx="431.68" cy="355.43" r="1.45"/>
<circle cx="432.56" cy="356.83" r="1.45"/>
<circle cx="436.06" cy="355.95" r="1.45"/>
<circle cx="441.32" cy="355.95" r="1.45"/>
<circle cx="443.07" cy="356.83" r="1.45"/>
<circle cx="448.33" cy="355.95" r="1.45"/>
<circle cx="450.95" cy="357.18" r="1.45"/>
<circle cx="434.31" cy="354.2" r="1.45"/>
<circle cx="436.94" cy="354.73" r="1.45"/>
<circle cx="437.81" cy="344.57" r="1.45"/>
<circle cx="435.71" cy="337.56" r="1.45"/>
<circle cx="434.31" cy="344.22" r="1.45"/>
<circle cx="440.44" cy="348.95" r="1.45"/>
<circle cx="431.68" cy="337.56" r="1.45"/>
<circle cx="433.43" cy="335.81" r="1.45"/>
<circle cx="435.19" cy="343.69" r="1.45"/>
<circle cx="432.56" cy="345.44" r="1.45"/>
<circle cx="430.81" cy="348.07" r="1.45"/>
<circle cx="436.94" cy="348.95" r="1.45"/>
<circle cx="435.19" cy="351.57" r="1.45"/>
<circle cx="432.56" cy="354.2" r="1.45"/>
<circle cx="429.93" cy="355.95" r="1.45"/>
<circle cx="439.57" cy="354.2" r="1.45"/>
<circle cx="441.32" cy="350.7" r="1.45"/>
<circle cx="434.66" cy="356.83" r="1.45"/>
<circle cx="437.46" cy="357.18" r="1.45"/>
<text x="312.2" y="117.5" font-size="3.85" font-weight="bold" text-anchor="start" fill="#111" stroke="#111" stroke-width="0.2">GCS1</text>
<text x="347.3" y="124.9" font-size="3.85" font-weight="bold" text-anchor="middle" fill="#111" stroke="#111" stroke-width="0.2">YDJ1</text>
<text x="378.1" y="138.1" font-size="3.85" font-weight="bold" text-anchor="middle" fill="#111" stroke="#111" stroke-width="0.2">SGT2</text>
<text x="358.3" y="169.8" font-size="3.85" font-weight="bold" text-anchor="middle" fill="#111" stroke="#111" stroke-width="0.2">SSZ1</text>
<text x="395.2" y="168.6" font-size="3.85" font-weight="bold" text-anchor="end" fill="#111" stroke="#111" stroke-width="0.2">RPP1B</text>
<text x="325" y="185.6" font-size="3.85" font-weight="bold" text-anchor="middle" fill="#111" stroke="#111" stroke-width="0.2">YPR010C-A</text>
<text x="369.8" y="190.9" font-size="3.85" font-weight="bold" text-anchor="start" fill="#111" stroke="#111" stroke-width="0.2">GVP36</text>
<text x="307.4" y="194.6" font-size="3.85" font-weight="bold" text-anchor="middle" fill="#111" stroke="#111" stroke-width="0.2">MTC1</text>
<text x="375.8" y="201.9" font-size="3.85" font-weight="bold" text-anchor="end" fill="#111" stroke="#111" stroke-width="0.2">HSP26</text>
<text x="387.7" y="207.5" font-size="3.85" font-weight="bold" text-anchor="middle" fill="#111" stroke="#111" stroke-width="0.2">RPS12</text>
<text x="360.1" y="207.4" font-size="3.85" font-weight="bold" text-anchor="middle" fill="#111" stroke="#111" stroke-width="0.2">LEU2</text>
<text x="355.4" y="217.5" font-size="3.85" font-weight="bold" text-anchor="middle" fill="#111" stroke="#111" stroke-width="0.2">HIS4</text>
<text x="395.2" y="210.5" font-size="3.85" font-weight="bold" text-anchor="end" fill="#111" stroke="#111" stroke-width="0.2">HSP12</text>
<text x="331.9" y="216.2" font-size="3.85" font-weight="bold" text-anchor="middle" fill="#111" stroke="#111" stroke-width="0.2">PUP2</text>
<text x="481.2" y="50.8" font-size="3.85" font-weight="bold" text-anchor="middle" fill="#111" stroke="#111" stroke-width="0.2">INP52</text>
<text x="468" y="123.8" font-size="3.85" font-weight="bold" text-anchor="end" fill="#111" stroke="#111" stroke-width="0.2">AKL1</text>
<text x="459.2" y="128.1" font-size="3.85" font-weight="bold" text-anchor="end" fill="#111" stroke="#111" stroke-width="0.2">RNQ1</text>
<text x="406" y="144" font-size="3.85" font-weight="bold" text-anchor="start" fill="#111" stroke="#111" stroke-width="0.2">PRB1</text>

<text x="411.7" y="178.1" font-size="3.85" font-weight="bold" text-anchor="middle" fill="#111" stroke="#111" stroke-width="0.2">VMA2</text>
<text x="422.5" y="181.3" font-size="3.85" font-weight="bold" text-anchor="start" fill="#111" stroke="#111" stroke-width="0.2">SEF1</text>
<text x="409.3" y="184.7" font-size="3.85" font-weight="bold" text-anchor="middle" fill="#111" stroke="#111" stroke-width="0.2">SSB2</text>
<text x="453.4" y="182.1" font-size="3.85" font-weight="bold" text-anchor="middle" fill="#111" stroke="#111" stroke-width="0.2">RPO31</text>
<text x="475.3" y="184.2" font-size="3.85" font-weight="bold" text-anchor="start" fill="#111" stroke="#111" stroke-width="0.2">EMD3</text>
<text x="495.2" y="182.1" font-size="3.85" font-weight="bold" text-anchor="middle" fill="#111" stroke="#111" stroke-width="0.2">GDC1</text>
<text x="407" y="204.3" font-size="3.85" font-weight="bold" text-anchor="start" fill="#111" stroke="#111" stroke-width="0.2">MBA1</text>
<text x="416.1" y="208" font-size="3.85" font-weight="bold" text-anchor="start" fill="#111" stroke="#111" stroke-width="0.2">PEX2</text>
<text x="402.8" y="208.8" font-size="3.85" font-weight="bold" text-anchor="middle" fill="#111" stroke="#111" stroke-width="0.2">LSP1</text>

<text x="415" y="216" font-size="3.85" font-weight="bold" text-anchor="start" fill="#111" stroke="#111" stroke-width="0.2">SVB</text>
<text x="451.4" y="213.1" font-size="3.85" font-weight="bold" text-anchor="end" fill="#111" stroke="#111" stroke-width="0.2">CCT2</text>
<text x="462.3" y="205.4" font-size="3.85" font-weight="bold" text-anchor="middle" fill="#111" stroke="#111" stroke-width="0.2">SSE1</text>
<text x="465" y="212.7" font-size="3.85" font-weight="bold" text-anchor="middle" fill="#111" stroke="#111" stroke-width="0.2">CDC36</text>
<text x="476.6" y="208.6" font-size="3.85" font-weight="bold" text-anchor="start" fill="#111" stroke="#111" stroke-width="0.2">RPL4A</text>
<text x="478.6" y="218.3" font-size="3.85" font-weight="bold" text-anchor="middle" fill="#111" stroke="#111" stroke-width="0.2">SSE2</text>
<text x="476.5" y="226.5" font-size="3.85" font-weight="bold" text-anchor="start" fill="#111" stroke="#111" stroke-width="0.2">CYC8</text>
<text x="465.3" y="221.6" font-size="3.85" font-weight="bold" text-anchor="end" fill="#111" stroke="#111" stroke-width="0.2">SDS24</text>
<text x="466.5" y="230" font-size="3.85" font-weight="bold" text-anchor="end" fill="#111" stroke="#111" stroke-width="0.2">KGD1</text>
<text x="400.4" y="222" font-size="3.85" font-weight="bold" text-anchor="middle" fill="#111" stroke="#111" stroke-width="0.2">NAP1</text>
<text x="410.8" y="223.6" font-size="3.85" font-weight="bold" text-anchor="start" fill="#111" stroke="#111" stroke-width="0.2">PGK1</text>
<text x="407.8" y="236.4" font-size="3.85" font-weight="bold" text-anchor="start" fill="#111" stroke="#111" stroke-width="0.2">CYC1</text>
<text x="429.9" y="240.4" font-size="3.85" font-weight="bold" text-anchor="start" fill="#111" stroke="#111" stroke-width="0.2">HYP2</text>
<text x="425.9" y="243.3" font-size="3.85" font-weight="bold" text-anchor="start" fill="#111" stroke="#111" stroke-width="0.2">SOR1</text>
<text x="464" y="232.4" font-size="3.85" font-weight="bold" text-anchor="end" fill="#111" stroke="#111" stroke-width="0.2">PAB1</text>
<text x="463.5" y="238.8" font-size="3.85" font-weight="bold" text-anchor="middle" fill="#111" stroke="#111" stroke-width="0.2">FET5</text>
<text x="486" y="230.8" font-size="3.85" font-weight="bold" text-anchor="middle" fill="#111" stroke="#111" stroke-width="0.2">ACS2</text>
<text x="491.5" y="235.3" font-size="3.85" font-weight="bold" text-anchor="start" fill="#111" stroke="#111" stroke-width="0.2">BVL3</text>
<text x="476.7" y="234.8" font-size="3.85" font-weight="bold" text-anchor="middle" fill="#111" stroke="#111" stroke-width="0.2">RPL1B</text>
<text x="490.5" y="240" font-size="3.85" font-weight="bold" text-anchor="start" fill="#111" stroke="#111" stroke-width="0.2">TSL1</text>
<text x="622.4" y="167.5" font-size="3.85" font-weight="bold" text-anchor="middle" fill="#111" stroke="#111" stroke-width="0.2">OSH2</text>
<text x="576.3" y="194.2" font-size="3.85" font-weight="bold" text-anchor="middle" fill="#111" stroke="#111" stroke-width="0.2">CHC1</text>
<text x="619.5" y="195.9" font-size="3.85" font-weight="bold" text-anchor="middle" fill="#111" stroke="#111" stroke-width="0.2">LHS1</text>
<text x="509.4" y="195.1" font-size="3.85" font-weight="bold" text-anchor="middle" fill="#111" stroke="#111" stroke-width="0.2">YER079W</text>
<text x="525.6" y="203" font-size="3.85" font-weight="bold" text-anchor="middle" fill="#111" stroke="#111" stroke-width="0.2">KIN2</text>
<text x="497.7" y="209.6" font-size="3.85" font-weight="bold" text-anchor="middle" fill="#111" stroke="#111" stroke-width="0.2">PSR1</text>
<text x="519.3" y="212.7" font-size="3.85" font-weight="bold" text-anchor="middle" fill="#111" stroke="#111" stroke-width="0.2">LSB3</text>
<text x="501.4" y="218.1" font-size="3.85" font-weight="bold" text-anchor="middle" fill="#111" stroke="#111" stroke-width="0.2">PET10</text>
<text x="535" y="222.7" font-size="3.85" font-weight="bold" text-anchor="middle" fill="#111" stroke="#111" stroke-width="0.2">DED1</text>
<text x="509.8" y="227.8" font-size="3.85" font-weight="bold" text-anchor="end" fill="#111" stroke="#111" stroke-width="0.2">SIS2</text>
<text x="515.6" y="227.2" font-size="3.85" font-weight="bold" text-anchor="middle" fill="#111" stroke="#111" stroke-width="0.2">TPS3</text>
<text x="539.5" y="231.2" font-size="3.85" font-weight="bold" text-anchor="start" fill="#111" stroke="#111" stroke-width="0.2">RPL8B</text>
<text x="523.6" y="232.9" font-size="3.85" font-weight="bold" text-anchor="middle" fill="#111" stroke="#111" stroke-width="0.2">RPS18A</text>
<text x="528.1" y="238" font-size="3.85" font-weight="bold" text-anchor="start" fill="#111" stroke="#111" stroke-width="0.2">REX2</text>
<text x="542.9" y="235.8" font-size="3.85" font-weight="bold" text-anchor="start" fill="#111" stroke="#111" stroke-width="0.2">RVS167</text>
<text x="565.4" y="234.1" font-size="3.85" font-weight="bold" text-anchor="middle" fill="#111" stroke="#111" stroke-width="0.2">HMF1</text>
<text x="573.1" y="237.2" font-size="3.85" font-weight="bold" text-anchor="start" fill="#111" stroke="#111" stroke-width="0.2">TY1B-JR2</text>
<text x="651.7" y="236.9" font-size="3.85" font-weight="bold" text-anchor="middle" fill="#111" stroke="#111" stroke-width="0.2">FES1</text>
<text x="513.3" y="242.3" font-size="3.85" font-weight="bold" text-anchor="start" fill="#111" stroke="#111" stroke-width="0.2">SRO9</text>
<text x="506.7" y="248.5" font-size="3.85" font-weight="bold" text-anchor="middle" fill="#111" stroke="#111" stroke-width="0.2">RPL3</text>

<text x="537.8" y="247.7" font-size="3.85" font-weight="bold" text-anchor="middle" fill="#111" stroke="#111" stroke-width="0.2">RPS5</text>
<text x="526.4" y="249.7" font-size="3.85" font-weight="bold" text-anchor="middle" fill="#111" stroke="#111" stroke-width="0.2">ENT1</text>
<text x="531.8" y="256.6" font-size="3.85" font-weight="bold" text-anchor="start" fill="#111" stroke="#111" stroke-width="0.2">RPL7A</text>
<text x="556.3" y="254.8" font-size="3.85" font-weight="bold" text-anchor="middle" fill="#111" stroke="#111" stroke-width="0.2">GGA1</text>
<text x="637.2" y="250.6" font-size="3.85" font-weight="bold" text-anchor="middle" fill="#111" stroke="#111" stroke-width="0.2">EDC3</text>
<text x="516.5" y="257.4" font-size="3.85" font-weight="bold" text-anchor="middle" fill="#111" stroke="#111" stroke-width="0.2">YHM2</text>
<text x="492.8" y="262" font-size="3.85" font-weight="bold" text-anchor="middle" fill="#111" stroke="#111" stroke-width="0.2">SOP1</text>
<text x="513.3" y="264" font-size="3.85" font-weight="bold" text-anchor="end" fill="#111" stroke="#111" stroke-width="0.2">RPP0</text>
<text x="522.7" y="264.8" font-size="3.85" font-weight="bold" text-anchor="middle" fill="#111" stroke="#111" stroke-width="0.2">ACT1</text>
<text x="544.2" y="265.6" font-size="3.85" font-weight="bold" text-anchor="middle" fill="#111" stroke="#111" stroke-width="0.2">RPS22B</text>
<text x="500" y="272.5" font-size="3.85" font-weight="bold" text-anchor="middle" fill="#111" stroke="#111" stroke-width="0.2">RPL4B</text>
<text x="510" y="275.6" font-size="3.85" font-weight="bold" text-anchor="middle" fill="#111" stroke="#111" stroke-width="0.2">FAA1</text>
<text x="524.2" y="279.1" font-size="3.85" font-weight="bold" text-anchor="middle" fill="#111" stroke="#111" stroke-width="0.2">FAS2</text>
<text x="491.4" y="281.3" font-size="3.85" font-weight="bold" text-anchor="middle" fill="#111" stroke="#111" stroke-width="0.2">RPN2</text>
<text x="518.5" y="283.6" font-size="3.85" font-weight="bold" text-anchor="middle" fill="#111" stroke="#111" stroke-width="0.2">POB3</text>
<text x="540.7" y="283.6" font-size="3.85" font-weight="bold" text-anchor="middle" fill="#111" stroke="#111" stroke-width="0.2">RPN34</text>
<text x="310.5" y="243.6" font-size="3.85" font-weight="bold" text-anchor="middle" fill="#111" stroke="#111" stroke-width="0.2">TSA1</text>
<text x="324.4" y="239.6" font-size="3.85" font-weight="bold" text-anchor="middle" fill="#111" stroke="#111" stroke-width="0.2">FAA1</text>
<text x="337.7" y="235.5" font-size="3.85" font-weight="bold" text-anchor="middle" fill="#111" stroke="#111" stroke-width="0.2">SCW4</text>
<text x="350.9" y="230.4" font-size="3.85" font-weight="bold" text-anchor="end" fill="#111" stroke="#111" stroke-width="0.2">HSP82</text>
<text x="360.8" y="227.3" font-size="3.85" font-weight="bold" text-anchor="middle" fill="#111" stroke="#111" stroke-width="0.2">MNP1</text>
<text x="376.9" y="226.3" font-size="3.85" font-weight="bold" text-anchor="middle" fill="#111" stroke="#111" stroke-width="0.2">RPS16B</text>

<text x="386.7" y="228.3" font-size="3.85" font-weight="bold" text-anchor="middle" fill="#111" stroke="#111" stroke-width="0.2">DVS2</text>
<text x="360.1" y="241" font-size="3.85" font-weight="bold" text-anchor="middle" fill="#111" stroke="#111" stroke-width="0.2">TIF34</text>
<text x="388.3" y="235.5" font-size="3.85" font-weight="bold" text-anchor="middle" fill="#111" stroke="#111" stroke-width="0.2">RPT3</text>
<text x="337.8" y="250.8" font-size="3.85" font-weight="bold" text-anchor="end" fill="#111" stroke="#111" stroke-width="0.2">OM45</text>
<text x="346.4" y="247.1" font-size="3.85" font-weight="bold" text-anchor="middle" fill="#111" stroke="#111" stroke-width="0.2">STI1</text>
<text x="359.7" y="255.9" font-size="3.85" font-weight="bold" text-anchor="end" fill="#111" stroke="#111" stroke-width="0.2">ATP15</text>
<text x="372.4" y="256.9" font-size="3.85" font-weight="bold" text-anchor="middle" fill="#111" stroke="#111" stroke-width="0.2">GPD1</text>
<text x="383.2" y="253.3" font-size="3.85" font-weight="bold" text-anchor="end" fill="#111" stroke="#111" stroke-width="0.2">RLC1</text>

<text x="389.3" y="264.1" font-size="3.85" font-weight="bold" text-anchor="middle" fill="#111" stroke="#111" stroke-width="0.2">ECM1</text>
<text x="328.9" y="268.6" font-size="3.85" font-weight="bold" text-anchor="middle" fill="#111" stroke="#111" stroke-width="0.2">FMP52</text>
<text x="371.4" y="267.8" font-size="3.85" font-weight="bold" text-anchor="middle" fill="#111" stroke="#111" stroke-width="0.2">PTC3</text>
<text x="356.5" y="272.7" font-size="3.85" font-weight="bold" text-anchor="middle" fill="#111" stroke="#111" stroke-width="0.2">DLD1</text>
<text x="368.3" y="276.8" font-size="3.85" font-weight="bold" text-anchor="middle" fill="#111" stroke="#111" stroke-width="0.2">CIT1</text>
<text x="361.7" y="282.1" font-size="3.85" font-weight="bold" text-anchor="end" fill="#111" stroke="#111" stroke-width="0.2">FBA1</text>
<text x="393.4" y="277.4" font-size="3.85" font-weight="bold" text-anchor="end" fill="#111" stroke="#111" stroke-width="0.2">PRS4</text>
<text x="377.5" y="236.5" font-size="3.85" font-weight="bold" text-anchor="middle" fill="#111" stroke="#111" stroke-width="0.2">VHS1</text>
<text x="400.9" y="241.3" font-size="3.85" font-weight="bold" text-anchor="end" fill="#111" stroke="#111" stroke-width="0.2">EXG1</text>

<text x="411.8" y="246.3" font-size="3.85" font-weight="bold" text-anchor="start" fill="#111" stroke="#111" stroke-width="0.2">RPP2A</text>
<text x="404.9" y="249.8" font-size="3.85" font-weight="bold" text-anchor="start" fill="#111" stroke="#111" stroke-width="0.2">CDC33</text>
<text x="421.9" y="251.9" font-size="3.85" font-weight="bold" text-anchor="start" fill="#111" stroke="#111" stroke-width="0.2">HSP60</text>
<text x="396.7" y="252.2" font-size="3.85" font-weight="bold" text-anchor="end" fill="#111" stroke="#111" stroke-width="0.2">RPS6</text>
<text x="408.5" y="255.8" font-size="3.85" font-weight="bold" text-anchor="start" fill="#111" stroke="#111" stroke-width="0.2">ATP2</text>
<text x="419.8" y="256.6" font-size="3.85" font-weight="bold" text-anchor="start" fill="#111" stroke="#111" stroke-width="0.2">RPN12</text>
<text x="431" y="260.6" font-size="3.85" font-weight="bold" text-anchor="start" fill="#111" stroke="#111" stroke-width="0.2">COX17</text>
<text x="406.8" y="263.2" font-size="3.85" font-weight="bold" text-anchor="end" fill="#111" stroke="#111" stroke-width="0.2">RPL26</text>

<text x="420.1" y="263.5" font-size="3.85" font-weight="bold" text-anchor="start" fill="#111" stroke="#111" stroke-width="0.2">SSB1</text>
<text x="422.5" y="265.9" font-size="3.85" font-weight="bold" text-anchor="start" fill="#111" stroke="#111" stroke-width="0.2">RPS20</text>
<text x="409.5" y="267.5" font-size="3.85" font-weight="bold" text-anchor="end" fill="#111" stroke="#111" stroke-width="0.2">YHR</text>

<text x="399.9" y="271.5" font-size="3.85" font-weight="bold" text-anchor="end" fill="#111" stroke="#111" stroke-width="0.2">ROL1</text>
<text x="417.1" y="272.3" font-size="3.85" font-weight="bold" text-anchor="start" fill="#111" stroke="#111" stroke-width="0.2">RPS24A</text>

<text x="416.9" y="276" font-size="3.85" font-weight="bold" text-anchor="start" fill="#111" stroke="#111" stroke-width="0.2">CBF5</text>
<text x="426.7" y="278.7" font-size="3.85" font-weight="bold" text-anchor="start" fill="#111" stroke="#111" stroke-width="0.2">RPS30</text>

<text x="406" y="279.5" font-size="3.85" font-weight="bold" text-anchor="end" fill="#111" stroke="#111" stroke-width="0.2">TEF1</text>

<text x="416.1" y="283.1" font-size="3.85" font-weight="bold" text-anchor="start" fill="#111" stroke="#111" stroke-width="0.2">YRA1</text>
<text x="423.5" y="283.1" font-size="3.85" font-weight="bold" text-anchor="start" fill="#111" stroke="#111" stroke-width="0.2">UFD1</text>
<text x="404.8" y="286" font-size="3.85" font-weight="bold" text-anchor="end" fill="#111" stroke="#111" stroke-width="0.2">SPC</text>
<text x="440.6" y="257.1" font-size="3.85" font-weight="bold" text-anchor="middle" fill="#111" stroke="#111" stroke-width="0.2">STB1</text>
<text x="440.5" y="273.9" font-size="3.85" font-weight="bold" text-anchor="end" fill="#111" stroke="#111" stroke-width="0.2">PAB1</text>
<text x="453" y="267.5" font-size="3.85" font-weight="bold" text-anchor="middle" fill="#111" stroke="#111" stroke-width="0.2">PUP4</text>
<text x="455" y="256.1" font-size="3.85" font-weight="bold" text-anchor="middle" fill="#111" stroke="#111" stroke-width="0.2">THO2</text>
<text x="461.5" y="264.6" font-size="3.85" font-weight="bold" text-anchor="start" fill="#111" stroke="#111" stroke-width="0.2">CUP1</text>
<text x="463.5" y="251.8" font-size="3.85" font-weight="bold" text-anchor="middle" fill="#111" stroke="#111" stroke-width="0.2">SNQ2</text>


<text x="463.2" y="273.1" font-size="3.85" font-weight="bold" text-anchor="start" fill="#111" stroke="#111" stroke-width="0.2">MDH1</text>
<text x="460.9" y="281.4" font-size="3.85" font-weight="bold" text-anchor="middle" fill="#111" stroke="#111" stroke-width="0.2">RIM15</text>
<text x="469.4" y="246.5" font-size="3.85" font-weight="bold" text-anchor="start" fill="#111" stroke="#111" stroke-width="0.2">TIF4631</text>
<text x="474.4" y="251.1" font-size="3.85" font-weight="bold" text-anchor="start" fill="#111" stroke="#111" stroke-width="0.2">RPS11B</text>
<text x="475.2" y="260.3" font-size="3.85" font-weight="bold" text-anchor="start" fill="#111" stroke="#111" stroke-width="0.2">SEC2</text>
<text x="473.6" y="275.8" font-size="3.85" font-weight="bold" text-anchor="start" fill="#111" stroke="#111" stroke-width="0.2">DBP3</text>
<text x="472.8" y="280.3" font-size="3.85" font-weight="bold" text-anchor="start" fill="#111" stroke="#111" stroke-width="0.2">YBR</text>
<text x="479.1" y="268.9" font-size="3.85" font-weight="bold" text-anchor="middle" fill="#111" stroke="#111" stroke-width="0.2">DBP3</text>
<text x="479.2" y="277.9" font-size="3.85" font-weight="bold" text-anchor="start" fill="#111" stroke="#111" stroke-width="0.2">SSE4</text>

<text x="485" y="289.1" font-size="3.85" font-weight="bold" text-anchor="middle" fill="#111" stroke="#111" stroke-width="0.2">SOP1</text>
<text x="493.7" y="285.2" font-size="3.85" font-weight="bold" text-anchor="start" fill="#111" stroke="#111" stroke-width="0.2">RPN</text>
<text x="493.3" y="261.9" font-size="3.85" font-weight="bold" text-anchor="middle" fill="#111" stroke="#111" stroke-width="0.2">SOP1</text>

<text x="438.5" y="267.8" font-size="3.85" font-weight="bold" text-anchor="start" fill="#111" stroke="#111" stroke-width="0.2">TUB1</text>
<text x="458" y="247.6" font-size="3.85" font-weight="bold" text-anchor="middle" fill="#111" stroke="#111" stroke-width="0.2">SNQ2</text>
<circle cx="310.7" cy="119.4" r="1.45" fill="#000000"/>
<circle cx="347.3" cy="126.8" r="1.45" fill="#3DB83D"/>
<circle cx="378.1" cy="140" r="1.45" fill="#3DB83D"/>
<circle cx="358.3" cy="171.7" r="1.45" fill="#3DB83D"/>
<circle cx="397.7" cy="166.8" r="1.45" fill="#E9C23C"/>
<circle cx="325" cy="187.5" r="1.45" fill="#C8E2F0"/>
<circle cx="367.3" cy="189.1" r="1.45" fill="#C8E2F0"/>
<circle cx="307.4" cy="196.5" r="1.45" fill="#5B2A8A"/>
<circle cx="377.3" cy="203.8" r="1.45" fill="#3DB83D"/>
<circle cx="386.7" cy="201.8" r="1.45" fill="#5B2A8A"/>
<circle cx="360.1" cy="209.3" r="1.45" fill="#F24FF2"/>
<circle cx="354.4" cy="211.8" r="1.45" fill="#F24FF2"/>
<circle cx="396.7" cy="212.4" r="1.45" fill="#3DB83D"/>
<circle cx="331.9" cy="218.1" r="1.45" fill="#E8307A"/>
<circle cx="481.2" cy="52.7" r="1.45" fill="#F24FF2"/>
<circle cx="469.5" cy="125.7" r="1.45" fill="#6FF0F0"/>
<circle cx="461.7" cy="126.3" r="1.45" fill="#C8E2F0"/>
<circle cx="403.5" cy="142.2" r="1.45" fill="#6FF0F0"/>
<circle cx="400.4" cy="175.7" r="1.45" fill="#C8E2F0"/>
<circle cx="411.7" cy="180" r="1.45" fill="#6FF0F0"/>
<circle cx="421" cy="183.2" r="1.45" fill="#E9C23C"/>
<circle cx="409.3" cy="186.6" r="1.45" fill="#3DB83D"/>
<circle cx="453.4" cy="184" r="1.45" fill="#E8782F"/>
<circle cx="473.8" cy="186.1" r="1.45" fill="#1E2F8A"/>
<circle cx="495.2" cy="184" r="1.45" fill="#000000"/>
<circle cx="404.5" cy="202.5" r="1.45" fill="#C8E2F0"/>
<circle cx="413.6" cy="206.2" r="1.45" fill="#8A9A22"/>
<circle cx="402.8" cy="210.7" r="1.45" fill="#8A9A22"/>
<circle cx="403.2" cy="213.4" r="1.45" fill="#3DB83D"/>
<circle cx="412.5" cy="214.2" r="1.45" fill="#F24FF2"/>
<circle cx="453.9" cy="211.3" r="1.45" fill="#3DB83D"/>
<circle cx="462.3" cy="207.3" r="1.45" fill="#3DB83D"/>
<circle cx="465" cy="214.6" r="1.45" fill="#E9C23C"/>
<circle cx="475.1" cy="210.5" r="1.45" fill="#5B2A8A"/>
<circle cx="478.6" cy="220.2" r="1.45" fill="#3DB83D"/>
<circle cx="474" cy="224.7" r="1.45" fill="#6FF0F0"/>
<circle cx="466.8" cy="223.5" r="1.45" fill="#6FF0F0"/>
<circle cx="469" cy="228.2" r="1.45" fill="#5B2A8A"/>
<circle cx="400.4" cy="223.9" r="1.45" fill="#F24FF2"/>
<circle cx="409.3" cy="225.5" r="1.45" fill="#3DB83D"/>
<circle cx="405.3" cy="234.6" r="1.45" fill="#F24FF2"/>
<circle cx="427.4" cy="238.6" r="1.45" fill="#E9C23C"/>
<circle cx="423.4" cy="241.5" r="1.45" fill="#F24FF2"/>
<circle cx="465.5" cy="234.3" r="1.45" fill="#6FF0F0"/>
<circle cx="463.5" cy="240.7" r="1.45" fill="#6FF0F0"/>
<circle cx="486" cy="232.7" r="1.45" fill="#F24FF2"/>
<circle cx="489" cy="233.5" r="1.45" fill="#6FF0F0"/>
<circle cx="476.7" cy="236.7" r="1.45" fill="#E9C23C"/>
<circle cx="489" cy="241.9" r="1.45" fill="#1E2F8A"/>
<circle cx="622.4" cy="169.4" r="1.45" fill="#6FF0F0"/>
<circle cx="576.3" cy="196.1" r="1.45" fill="#6FF0F0"/>
<circle cx="619.5" cy="197.8" r="1.45" fill="#3DB83D"/>
<circle cx="509.4" cy="197" r="1.45" fill="#C8E2F0"/>
<circle cx="525.6" cy="204.9" r="1.45" fill="#3DB83D"/>
<circle cx="497.7" cy="211.5" r="1.45" fill="#1E2F8A"/>
<circle cx="519.3" cy="214.6" r="1.45" fill="#6FF0F0"/>
<circle cx="501.4" cy="220" r="1.45" fill="#F24FF2"/>
<circle cx="535" cy="224.6" r="1.45" fill="#E9C23C"/>
<circle cx="511.3" cy="229.7" r="1.45" fill="#F24FF2"/>
<circle cx="515.6" cy="229.1" r="1.45" fill="#1E2F8A"/>
<circle cx="537" cy="229.4" r="1.45" fill="#5B2A8A"/>
<circle cx="523.6" cy="234.8" r="1.45" fill="#5B2A8A"/>
<circle cx="525.6" cy="236.2" r="1.45" fill="#E8782F"/>
<circle cx="540.4" cy="234" r="1.45" fill="#4CF04C"/>
<circle cx="565.4" cy="236" r="1.45" fill="#4CF04C"/>
<circle cx="570.6" cy="235.4" r="1.45" fill="#C8E2F0"/>
<circle cx="651.7" cy="238.8" r="1.45" fill="#3DB83D"/>
<circle cx="510.8" cy="240.5" r="1.45" fill="#3DB83D"/>
<circle cx="505.7" cy="242.8" r="1.45" fill="#5B2A8A"/>
<circle cx="509" cy="242" r="1.45" fill="#F24FF2"/>
<circle cx="537.8" cy="249.6" r="1.45" fill="#5B2A8A"/>
<circle cx="526.4" cy="251.6" r="1.45" fill="#E8307A"/>
<circle cx="529.3" cy="254.8" r="1.45" fill="#5B2A8A"/>
<circle cx="556.3" cy="256.7" r="1.45" fill="#E8307A"/>
<circle cx="637.2" cy="252.5" r="1.45" fill="#E9C23C"/>
<circle cx="516.5" cy="259.3" r="1.45" fill="#C8E2F0"/>
<circle cx="492.8" cy="263.9" r="1.45" fill="#E8307A"/>
<circle cx="514.8" cy="265.9" r="1.45" fill="#5B2A8A"/>
<circle cx="522.7" cy="266.7" r="1.45" fill="#1E2F8A"/>
<circle cx="543.2" cy="259.9" r="1.45" fill="#5B2A8A"/>
<circle cx="500" cy="274.4" r="1.45" fill="#5B2A8A"/>
<circle cx="510" cy="277.5" r="1.45" fill="#F24FF2"/>
<circle cx="524.2" cy="281" r="1.45" fill="#F24FF2"/>
<circle cx="491.4" cy="283.2" r="1.45" fill="#E8307A"/>
<circle cx="518.5" cy="285.5" r="1.45" fill="#E8307A"/>
<circle cx="540.7" cy="285.5" r="1.45" fill="#5B2A8A"/>
<circle cx="310.5" cy="245.5" r="1.45" fill="#3DB83D"/>
<circle cx="324.4" cy="241.5" r="1.45" fill="#4CF04C"/>
<circle cx="337.7" cy="237.4" r="1.45" fill="#1E2F8A"/>
<circle cx="352.4" cy="232.3" r="1.45" fill="#3DB83D"/>
<circle cx="360.8" cy="229.2" r="1.45" fill="#5B2A8A"/>
<circle cx="376.9" cy="228.2" r="1.45" fill="#5B2A8A"/>
<circle cx="375.5" cy="229.8" r="1.45" fill="#E9C23C"/>
<circle cx="386.7" cy="230.2" r="1.45" fill="#E8782F"/>
<circle cx="359.1" cy="235.3" r="1.45" fill="#E9C23C"/>
<circle cx="388.3" cy="237.4" r="1.45" fill="#E8307A"/>
<circle cx="339.3" cy="252.7" r="1.45" fill="#C8E2F0"/>
<circle cx="346.4" cy="249" r="1.45" fill="#3DB83D"/>
<circle cx="361.2" cy="257.8" r="1.45" fill="#F24FF2"/>
<circle cx="372.4" cy="258.8" r="1.45" fill="#F24FF2"/>
<circle cx="384.7" cy="255.2" r="1.45" fill="#4CF04C"/>
<circle cx="388.3" cy="253.1" r="1.45" fill="#1E2F8A"/>
<circle cx="388.3" cy="258.4" r="1.45" fill="#1E2F8A"/>
<circle cx="328.9" cy="270.5" r="1.45" fill="#C8E2F0"/>
<circle cx="371.4" cy="269.7" r="1.45" fill="#1E2F8A"/>
<circle cx="356.5" cy="274.6" r="1.45" fill="#F24FF2"/>
<circle cx="368.3" cy="278.7" r="1.45" fill="#3DB83D"/>
<circle cx="364.2" cy="280.3" r="1.45" fill="#F24FF2"/>
<circle cx="394.9" cy="279.3" r="1.45" fill="#1E2F8A"/>
<circle cx="376.5" cy="230.8" r="1.45" fill="#C8E2F0"/>
<circle cx="402.4" cy="243.2" r="1.45" fill="#1E2F8A"/>
<circle cx="409.3" cy="241.6" r="1.45" fill="#3DB83D"/>
<circle cx="409.3" cy="244.5" r="1.45" fill="#5B2A8A"/>
<circle cx="402.4" cy="248" r="1.45" fill="#E9C23C"/>
<circle cx="419.4" cy="250.1" r="1.45" fill="#3DB83D"/>
<circle cx="399.2" cy="250.4" r="1.45" fill="#5B2A8A"/>
<circle cx="406" cy="254" r="1.45" fill="#F24FF2"/>
<circle cx="417.3" cy="254.8" r="1.45" fill="#E8307A"/>
<circle cx="428.5" cy="258.8" r="1.45" fill="#F24FF2"/>
<circle cx="409.3" cy="261.4" r="1.45" fill="#5B2A8A"/>
<circle cx="415.7" cy="262.8" r="1.45" fill="#C8E2F0"/>
<circle cx="417.6" cy="261.7" r="1.45" fill="#3DB83D"/>
<circle cx="420" cy="264.1" r="1.45" fill="#E8782F"/>
<circle cx="412" cy="265.7" r="1.45" fill="#5B2A8A"/>
<circle cx="409" cy="268.9" r="1.45" fill="#000000"/>
<circle cx="402.4" cy="269.7" r="1.45" fill="#F24FF2"/>
<circle cx="414.6" cy="270.5" r="1.45" fill="#5B2A8A"/>
<circle cx="408" cy="271.6" r="1.45" fill="#1E2F8A"/>
<circle cx="414.4" cy="274.2" r="1.45" fill="#E8782F"/>
<circle cx="424.2" cy="276.9" r="1.45" fill="#5B2A8A"/>
<circle cx="421.3" cy="275.3" r="1.45" fill="#000000"/>
<circle cx="408.5" cy="277.7" r="1.45" fill="#3DB83D"/>
<circle cx="395.1" cy="279" r="1.45" fill="#1E2F8A"/>
<circle cx="413.6" cy="281.3" r="1.45" fill="#E8782F"/>
<circle cx="421" cy="281.3" r="1.45" fill="#E8307A"/>
<circle cx="407.3" cy="284.2" r="1.45" fill="#E8307A"/>
<circle cx="440.6" cy="259" r="1.45" fill="#000000"/>
<circle cx="443" cy="272.1" r="1.45" fill="#E9C23C"/>
<circle cx="453" cy="269.4" r="1.45" fill="#8A9A22"/>
<circle cx="455" cy="258" r="1.45" fill="#E8307A"/>
<circle cx="459" cy="262.8" r="1.45" fill="#8A9A22"/>
<circle cx="463.5" cy="253.7" r="1.45" fill="#F24FF2"/>
<circle cx="467.9" cy="253.7" r="1.45" fill="#F24FF2"/>
<circle cx="463.5" cy="265.4" r="1.45" fill="#E9C23C"/>
<circle cx="460.7" cy="271.3" r="1.45" fill="#3DB83D"/>
<circle cx="459.9" cy="275.7" r="1.45" fill="#E8782F"/>
<circle cx="467.9" cy="248.4" r="1.45" fill="#E8782F"/>
<circle cx="471.9" cy="249.3" r="1.45" fill="#5B2A8A"/>
<circle cx="472.7" cy="258.5" r="1.45" fill="#F24FF2"/>
<circle cx="471.1" cy="274" r="1.45" fill="#1E2F8A"/>
<circle cx="470.3" cy="278.5" r="1.45" fill="#C8E2F0"/>
<circle cx="479.1" cy="270.8" r="1.45" fill="#E8782F"/>
<circle cx="476.7" cy="276.1" r="1.45" fill="#1E2F8A"/>
<circle cx="484" cy="282" r="1.45" fill="#3DB83D"/>
<circle cx="484" cy="283.4" r="1.45" fill="#E8782F"/>
<circle cx="491.2" cy="283.4" r="1.45" fill="#E8307A"/>
<circle cx="493.3" cy="263.8" r="1.45" fill="#E8307A"/>
<circle cx="470.3" cy="246.4" r="1.45" fill="#E9C23C"/>
<circle cx="436" cy="266" r="1.45" fill="#000000"/>
<circle cx="458" cy="249.5" r="1.45" fill="#E8782F"/>
<rect x="530.3" y="20.9" width="5.6" height="5.9" fill="#3DB83D"/>
<text x="537" y="26.1" font-size="7.1" text-anchor="start" fill="#111" stroke="#111" stroke-width="0.2">Protein folding</text>
<rect x="530.3" y="28.19" width="5.6" height="5.9" fill="#E9C23C"/>
<text x="537" y="33.39" font-size="7.1" text-anchor="start" fill="#111" stroke="#111" stroke-width="0.2">Stress-granule components</text>
<rect x="530.3" y="35.48" width="5.6" height="5.9" fill="#5B2A8A"/>
<text x="537" y="40.68" font-size="7.1" text-anchor="start" fill="#111" stroke="#111" stroke-width="0.2">Translation</text>
<rect x="530.3" y="42.77" width="5.6" height="5.9" fill="#1E2F8A"/>
<text x="537" y="47.97" font-size="7.1" text-anchor="start" fill="#111" stroke="#111" stroke-width="0.2">Cell-wall organization</text>
<rect x="530.3" y="50.06" width="5.6" height="5.9" fill="#E8782F"/>
<text x="537" y="55.26" font-size="7.1" text-anchor="start" fill="#111" stroke="#111" stroke-width="0.2">Transcription</text>
<rect x="530.3" y="57.35" width="5.6" height="5.9" fill="#F24FF2"/>
<text x="537" y="62.55" font-size="7.1" text-anchor="start" fill="#111" stroke="#111" stroke-width="0.2">Metabolism</text>
<rect x="530.3" y="64.64" width="5.6" height="5.9" fill="#E8307A"/>
<text x="537" y="69.84" font-size="7.1" text-anchor="start" fill="#111" stroke="#111" stroke-width="0.2">Protein degradation</text>
<rect x="530.3" y="71.93" width="5.6" height="5.9" fill="#6FF0F0"/>
<text x="537" y="77.13" font-size="7.1" text-anchor="start" fill="#111" stroke="#111" stroke-width="0.2">Endocytosis</text>
<rect x="530.3" y="79.22" width="5.6" height="5.9" fill="#000000"/>
<text x="537" y="84.42" font-size="7.1" text-anchor="start" fill="#111" stroke="#111" stroke-width="0.2">Vesicular transport</text>
<rect x="530.3" y="86.51" width="5.6" height="5.9" fill="#C8E2F0"/>
<text x="537" y="91.71" font-size="7.1" text-anchor="start" fill="#111" stroke="#111" stroke-width="0.2">Unknown function</text>
<rect x="530.3" y="93.8" width="5.6" height="5.9" fill="#4CF04C"/>
<text x="537" y="99" font-size="7.1" text-anchor="start" fill="#111" stroke="#111" stroke-width="0.2">Chromatin organization</text>
<rect x="530.3" y="101.09" width="5.6" height="5.9" fill="#8A9A22"/>
<text x="537" y="106.29" font-size="7.1" text-anchor="start" fill="#111" stroke="#111" stroke-width="0.2">Cytoskeletal organization</text>
<text x="305.2" y="420.7" font-size="13.8" text-anchor="middle" fill="#1a1a1a" stroke="#1a1a1a" stroke-width="0.2">GO Process</text>
<rect x="135.4" y="441.7" width="131.28" height="7.3" fill="#F2367F"/>
<text x="130.2" y="447" font-size="5.5" font-weight="bold" text-anchor="end" fill="#111" stroke="#111" stroke-width="0.2">endocytosis</text>
<rect x="135.4" y="452.67" width="114.16" height="7.3" fill="#F2367F"/>
<text x="130.2" y="457.97" font-size="5.5" font-weight="bold" text-anchor="end" fill="#111" stroke="#111" stroke-width="0.2">ribosome assembly</text>
<rect x="135.4" y="463.64" width="98.46" height="7.3" fill="#F2367F"/>
<text x="130.2" y="468.94" font-size="5.5" font-weight="bold" text-anchor="end" fill="#111" stroke="#111" stroke-width="0.2">ribosomal large subunit biogenesis</text>
<rect x="135.4" y="474.61" width="89.9" height="7.3" fill="#F2367F"/>
<text x="130.2" y="479.91" font-size="5.5" font-weight="bold" text-anchor="end" fill="#111" stroke="#111" stroke-width="0.2">cytoplasmic translation</text>
<rect x="135.4" y="485.58" width="87.76" height="7.3" fill="#F2367F"/>
<text x="130.2" y="490.88" font-size="5.5" font-weight="bold" text-anchor="end" fill="#111" stroke="#111" stroke-width="0.2">regulation of transport</text>
<rect x="135.4" y="496.55" width="76.77" height="7.3" fill="#F2367F"/>
<text x="130.2" y="501.85" font-size="5.5" font-weight="bold" text-anchor="end" fill="#111" stroke="#111" stroke-width="0.2">exocytosis</text>
<rect x="135.4" y="507.52" width="65.93" height="7.3" fill="#F2367F"/>
<text x="130.2" y="512.82" font-size="5.5" font-weight="bold" text-anchor="end" fill="#111" stroke="#111" stroke-width="0.2">cell budding</text>
<rect x="135.4" y="518.49" width="53.37" height="7.3" fill="#F2367F"/>
<text x="130.2" y="523.79" font-size="5.5" font-weight="bold" text-anchor="end" fill="#111" stroke="#111" stroke-width="0.2">cytokinesis</text>
<rect x="135.4" y="529.46" width="50.37" height="7.3" fill="#F2367F"/>
<text x="130.2" y="534.76" font-size="5.5" font-weight="bold" text-anchor="end" fill="#111" stroke="#111" stroke-width="0.2">ribosomal subunit export from nucleus</text>
<rect x="135.4" y="540.43" width="46.95" height="7.3" fill="#F2367F"/>
<text x="130.2" y="545.73" font-size="5.5" font-weight="bold" text-anchor="end" fill="#111" stroke="#111" stroke-width="0.2">cytoskeleton organization</text>
<line x1="149.67" y1="441.2" x2="149.67" y2="549.2" stroke="#111" stroke-width="1.1" stroke-dasharray="2.6 1.4"/>
<line x1="135.5" y1="440.2" x2="135.5" y2="550.2" stroke="#222" stroke-width="1.05"/>
<line x1="134.9" y1="549.2" x2="278.6" y2="549.2" stroke="#222" stroke-width="1.1"/>
<line x1="135.4" y1="549.2" x2="135.4" y2="551.2" stroke="#222" stroke-width="0.9"/>
<text x="135.4" y="558" font-size="5.6" font-weight="bold" text-anchor="middle" fill="#111" stroke="#111" stroke-width="0.2">0</text>
<line x1="149.67" y1="549.2" x2="149.67" y2="551.2" stroke="#222" stroke-width="0.9"/>
<text x="149.67" y="558" font-size="5.6" font-weight="bold" text-anchor="middle" fill="#111" stroke="#111" stroke-width="0.2">1</text>
<line x1="163.94" y1="549.2" x2="163.94" y2="551.2" stroke="#222" stroke-width="0.9"/>
<text x="163.94" y="558" font-size="5.6" font-weight="bold" text-anchor="middle" fill="#111" stroke="#111" stroke-width="0.2">2</text>
<line x1="178.21" y1="549.2" x2="178.21" y2="551.2" stroke="#222" stroke-width="0.9"/>
<text x="178.21" y="558" font-size="5.6" font-weight="bold" text-anchor="middle" fill="#111" stroke="#111" stroke-width="0.2">3</text>
<line x1="192.48" y1="549.2" x2="192.48" y2="551.2" stroke="#222" stroke-width="0.9"/>
<text x="192.48" y="558" font-size="5.6" font-weight="bold" text-anchor="middle" fill="#111" stroke="#111" stroke-width="0.2">4</text>
<line x1="206.75" y1="549.2" x2="206.75" y2="551.2" stroke="#222" stroke-width="0.9"/>
<text x="206.75" y="558" font-size="5.6" font-weight="bold" text-anchor="middle" fill="#111" stroke="#111" stroke-width="0.2">5</text>
<line x1="221.02" y1="549.2" x2="221.02" y2="551.2" stroke="#222" stroke-width="0.9"/>
<text x="221.02" y="558" font-size="5.6" font-weight="bold" text-anchor="middle" fill="#111" stroke="#111" stroke-width="0.2">6</text>
<line x1="235.29" y1="549.2" x2="235.29" y2="551.2" stroke="#222" stroke-width="0.9"/>
<text x="235.29" y="558" font-size="5.6" font-weight="bold" text-anchor="middle" fill="#111" stroke="#111" stroke-width="0.2">7</text>
<line x1="249.56" y1="549.2" x2="249.56" y2="551.2" stroke="#222" stroke-width="0.9"/>
<text x="249.56" y="558" font-size="5.6" font-weight="bold" text-anchor="middle" fill="#111" stroke="#111" stroke-width="0.2">8</text>
<line x1="263.83" y1="549.2" x2="263.83" y2="551.2" stroke="#222" stroke-width="0.9"/>
<text x="263.83" y="558" font-size="5.6" font-weight="bold" text-anchor="middle" fill="#111" stroke="#111" stroke-width="0.2">9</text>
<line x1="278.1" y1="549.2" x2="278.1" y2="551.2" stroke="#222" stroke-width="0.9"/>
<text x="278.1" y="558" font-size="5.6" font-weight="bold" text-anchor="middle" fill="#111" stroke="#111" stroke-width="0.2">10</text>
<text x="213.5" y="567.2" font-size="6.14" font-weight="bold" text-anchor="middle" fill="#111" stroke="#111" stroke-width="0.2">Fold enrichment over non-essential genome</text>
<rect x="423.9" y="440" width="194.3" height="7.4" fill="#56237F"/>
<text x="418.6" y="445.45" font-size="5.85" font-weight="bold" text-anchor="end" fill="#111" stroke="#111" stroke-width="0.2">protein folding</text>
<rect x="423.9" y="451.59" width="166.71" height="7.4" fill="#56237F"/>
<text x="418.6" y="457.04" font-size="5.85" font-weight="bold" text-anchor="end" fill="#111" stroke="#111" stroke-width="0.2">protein phosphorylation</text>
<rect x="423.9" y="463.18" width="153.5" height="7.4" fill="#56237F"/>
<text x="418.6" y="468.63" font-size="5.85" font-weight="bold" text-anchor="end" fill="#111" stroke="#111" stroke-width="0.2">response to heat</text>
<rect x="423.9" y="474.77" width="107.84" height="7.4" fill="#56237F"/>
<text x="418.6" y="480.22" font-size="5.85" font-weight="bold" text-anchor="end" fill="#111" stroke="#111" stroke-width="0.2">monocarboxylic acid metabolic process</text>
<rect x="423.9" y="486.36" width="98.9" height="7.4" fill="#56237F"/>
<text x="418.6" y="491.81" font-size="5.85" font-weight="bold" text-anchor="end" fill="#111" stroke="#111" stroke-width="0.2">regulation of protein modification process</text>
<rect x="423.9" y="497.95" width="97.93" height="7.4" fill="#56237F"/>
<text x="418.6" y="503.4" font-size="5.85" font-weight="bold" text-anchor="end" fill="#111" stroke="#111" stroke-width="0.2">asive growth in response to glucose limitation</text>
<rect x="423.9" y="509.54" width="87.44" height="7.4" fill="#56237F"/>
<text x="418.6" y="515" font-size="5.85" font-weight="bold" text-anchor="end" fill="#111" stroke="#111" stroke-width="0.2">ribosomal subunit export from nucleus</text>
<rect x="423.9" y="521.13" width="75.58" height="7.4" fill="#56237F"/>
<text x="418.6" y="526.59" font-size="5.85" font-weight="bold" text-anchor="end" fill="#111" stroke="#111" stroke-width="0.2">DNA damage response</text>
<rect x="423.9" y="532.72" width="73.25" height="7.4" fill="#56237F"/>
<text x="418.6" y="538.18" font-size="5.85" font-weight="bold" text-anchor="end" fill="#111" stroke="#111" stroke-width="0.2">carbohydrate metabolic process</text>
<rect x="423.9" y="544.31" width="71.31" height="7.4" fill="#56237F"/>
<text x="418.6" y="549.76" font-size="5.85" font-weight="bold" text-anchor="end" fill="#111" stroke="#111" stroke-width="0.2">protein maturation</text>
<line x1="442.3" y1="439.6" x2="442.3" y2="553.4" stroke="#111" stroke-width="1.1" stroke-dasharray="2.6 1.4"/>
<line x1="423.5" y1="438.6" x2="423.5" y2="554.4" stroke="#222" stroke-width="1.05"/>
<line x1="423.4" y1="553.4" x2="618.7" y2="553.4" stroke="#A8A8A8" stroke-width="2"/>
<line x1="423.9" y1="553.4" x2="423.9" y2="555.4" stroke="#222" stroke-width="0.9"/>
<text x="423.9" y="562.8" font-size="5.6" font-weight="bold" text-anchor="middle" fill="#111" stroke="#111" stroke-width="0.2">0</text>
<line x1="443.33" y1="553.4" x2="443.33" y2="555.4" stroke="#222" stroke-width="0.9"/>
<text x="443.33" y="562.8" font-size="5.6" font-weight="bold" text-anchor="middle" fill="#111" stroke="#111" stroke-width="0.2">1</text>
<line x1="462.76" y1="553.4" x2="462.76" y2="555.4" stroke="#222" stroke-width="0.9"/>
<text x="462.76" y="562.8" font-size="5.6" font-weight="bold" text-anchor="middle" fill="#111" stroke="#111" stroke-width="0.2">2</text>
<line x1="482.19" y1="553.4" x2="482.19" y2="555.4" stroke="#222" stroke-width="0.9"/>
<text x="482.19" y="562.8" font-size="5.6" font-weight="bold" text-anchor="middle" fill="#111" stroke="#111" stroke-width="0.2">3</text>
<line x1="501.62" y1="553.4" x2="501.62" y2="555.4" stroke="#222" stroke-width="0.9"/>
<text x="501.62" y="562.8" font-size="5.6" font-weight="bold" text-anchor="middle" fill="#111" stroke="#111" stroke-width="0.2">4</text>
<line x1="521.05" y1="553.4" x2="521.05" y2="555.4" stroke="#222" stroke-width="0.9"/>
<text x="521.05" y="562.8" font-size="5.6" font-weight="bold" text-anchor="middle" fill="#111" stroke="#111" stroke-width="0.2">5</text>
<line x1="540.48" y1="553.4" x2="540.48" y2="555.4" stroke="#222" stroke-width="0.9"/>
<text x="540.48" y="562.8" font-size="5.6" font-weight="bold" text-anchor="middle" fill="#111" stroke="#111" stroke-width="0.2">6</text>
<line x1="559.91" y1="553.4" x2="559.91" y2="555.4" stroke="#222" stroke-width="0.9"/>
<text x="559.91" y="562.8" font-size="5.6" font-weight="bold" text-anchor="middle" fill="#111" stroke="#111" stroke-width="0.2">7</text>
<line x1="579.34" y1="553.4" x2="579.34" y2="555.4" stroke="#222" stroke-width="0.9"/>
<text x="579.34" y="562.8" font-size="5.6" font-weight="bold" text-anchor="middle" fill="#111" stroke="#111" stroke-width="0.2">8</text>
<line x1="598.77" y1="553.4" x2="598.77" y2="555.4" stroke="#222" stroke-width="0.9"/>
<text x="598.77" y="562.8" font-size="5.6" font-weight="bold" text-anchor="middle" fill="#111" stroke="#111" stroke-width="0.2">9</text>
<line x1="618.2" y1="553.4" x2="618.2" y2="555.4" stroke="#222" stroke-width="0.9"/>
<text x="618.2" y="562.8" font-size="5.6" font-weight="bold" text-anchor="middle" fill="#111" stroke="#111" stroke-width="0.2">10</text>
<text x="522.3" y="573.5" font-size="6.5" font-weight="bold" text-anchor="middle" fill="#111" stroke="#111" stroke-width="0.2">Fold enrichment over non-essential genome</text>
<text x="305.2" y="596" font-size="13.8" text-anchor="middle" fill="#1a1a1a" stroke="#1a1a1a" stroke-width="0.2">GO Localization</text>
<rect x="128.5" y="615.8" width="160.13" height="8.4" fill="#F2367F"/>
<text x="123.4" y="621.77" font-size="5.9" font-weight="bold" text-anchor="end" fill="#111" stroke="#111" stroke-width="0.2">endomembrane system</text>
<rect x="128.5" y="628.49" width="71.29" height="8.4" fill="#F2367F"/>
<text x="123.4" y="634.46" font-size="5.9" font-weight="bold" text-anchor="end" fill="#111" stroke="#111" stroke-width="0.2">cell cortex</text>
<rect x="128.5" y="641.18" width="69.43" height="8.4" fill="#F2367F"/>
<text x="123.4" y="647.15" font-size="5.9" font-weight="bold" text-anchor="end" fill="#111" stroke="#111" stroke-width="0.2">cytoskeleton</text>
<rect x="128.5" y="653.87" width="68.36" height="8.4" fill="#F2367F"/>
<text x="123.4" y="659.84" font-size="5.9" font-weight="bold" text-anchor="end" fill="#111" stroke="#111" stroke-width="0.2">site of polarized growth</text>
<rect x="128.5" y="666.56" width="56.53" height="8.4" fill="#F2367F"/>
<text x="123.4" y="672.53" font-size="5.9" font-weight="bold" text-anchor="end" fill="#111" stroke="#111" stroke-width="0.2">cellular bud</text>
<rect x="128.5" y="679.25" width="48.28" height="8.4" fill="#F2367F"/>
<text x="123.4" y="685.22" font-size="5.9" font-weight="bold" text-anchor="end" fill="#111" stroke="#111" stroke-width="0.2">cytoplasmic vesicle</text>
<rect x="128.5" y="691.94" width="28.59" height="8.4" fill="#F2367F"/>
<text x="123.4" y="697.91" font-size="5.9" font-weight="bold" text-anchor="end" fill="#111" stroke="#111" stroke-width="0.2">plasma membrane</text>
<rect x="128.5" y="704.63" width="20.75" height="8.4" fill="#F2367F"/>
<text x="123.4" y="710.6" font-size="5.9" font-weight="bold" text-anchor="end" fill="#111" stroke="#111" stroke-width="0.2">nucleolus</text>
<rect x="128.5" y="717.32" width="18.35" height="8.4" fill="#F2367F"/>
<text x="123.4" y="723.29" font-size="5.9" font-weight="bold" text-anchor="end" fill="#111" stroke="#111" stroke-width="0.2">Golgi apparatus</text>
<rect x="128.5" y="730.01" width="16.49" height="8.4" fill="#F2367F"/>
<text x="123.4" y="735.98" font-size="5.9" font-weight="bold" text-anchor="end" fill="#111" stroke="#111" stroke-width="0.2">cytoplasm</text>
<line x1="141.8" y1="615" x2="141.8" y2="740.8" stroke="#111" stroke-width="1.1" stroke-dasharray="2.6 1.4"/>
<line x1="128.5" y1="614" x2="128.5" y2="741.8" stroke="#222" stroke-width="1.05"/>
<line x1="128" y1="740.8" x2="288.6" y2="740.8" stroke="#222" stroke-width="1.1"/>
<line x1="128.5" y1="740.8" x2="128.5" y2="742.8" stroke="#222" stroke-width="0.9"/>
<text x="128.5" y="749.3" font-size="5.8" font-weight="bold" text-anchor="middle" fill="#111" stroke="#111" stroke-width="0.2">0</text>
<line x1="141.8" y1="740.8" x2="141.8" y2="742.8" stroke="#222" stroke-width="0.9"/>
<text x="141.8" y="749.3" font-size="5.8" font-weight="bold" text-anchor="middle" fill="#111" stroke="#111" stroke-width="0.2">1</text>
<line x1="155.1" y1="740.8" x2="155.1" y2="742.8" stroke="#222" stroke-width="0.9"/>
<text x="155.1" y="749.3" font-size="5.8" font-weight="bold" text-anchor="middle" fill="#111" stroke="#111" stroke-width="0.2">2</text>
<line x1="168.4" y1="740.8" x2="168.4" y2="742.8" stroke="#222" stroke-width="0.9"/>
<text x="168.4" y="749.3" font-size="5.8" font-weight="bold" text-anchor="middle" fill="#111" stroke="#111" stroke-width="0.2">3</text>
<line x1="181.7" y1="740.8" x2="181.7" y2="742.8" stroke="#222" stroke-width="0.9"/>
<text x="181.7" y="749.3" font-size="5.8" font-weight="bold" text-anchor="middle" fill="#111" stroke="#111" stroke-width="0.2">4</text>
<line x1="195" y1="740.8" x2="195" y2="742.8" stroke="#222" stroke-width="0.9"/>
<text x="195" y="749.3" font-size="5.8" font-weight="bold" text-anchor="middle" fill="#111" stroke="#111" stroke-width="0.2">5</text>
<line x1="208.3" y1="740.8" x2="208.3" y2="742.8" stroke="#222" stroke-width="0.9"/>
<text x="208.3" y="749.3" font-size="5.8" font-weight="bold" text-anchor="middle" fill="#111" stroke="#111" stroke-width="0.2">6</text>
<line x1="221.6" y1="740.8" x2="221.6" y2="742.8" stroke="#222" stroke-width="0.9"/>
<text x="221.6" y="749.3" font-size="5.8" font-weight="bold" text-anchor="middle" fill="#111" stroke="#111" stroke-width="0.2">7</text>
<line x1="234.9" y1="740.8" x2="234.9" y2="742.8" stroke="#222" stroke-width="0.9"/>
<text x="234.9" y="749.3" font-size="5.8" font-weight="bold" text-anchor="middle" fill="#111" stroke="#111" stroke-width="0.2">8</text>
<line x1="248.2" y1="740.8" x2="248.2" y2="742.8" stroke="#222" stroke-width="0.9"/>
<text x="248.2" y="749.3" font-size="5.8" font-weight="bold" text-anchor="middle" fill="#111" stroke="#111" stroke-width="0.2">9</text>
<line x1="261.5" y1="740.8" x2="261.5" y2="742.8" stroke="#222" stroke-width="0.9"/>
<text x="261.5" y="749.3" font-size="5.8" font-weight="bold" text-anchor="middle" fill="#111" stroke="#111" stroke-width="0.2">10</text>
<line x1="274.8" y1="740.8" x2="274.8" y2="742.8" stroke="#222" stroke-width="0.9"/>
<text x="274.8" y="749.3" font-size="5.8" font-weight="bold" text-anchor="middle" fill="#111" stroke="#111" stroke-width="0.2">11</text>
<line x1="288.1" y1="740.8" x2="288.1" y2="742.8" stroke="#222" stroke-width="0.9"/>
<text x="288.1" y="749.3" font-size="5.8" font-weight="bold" text-anchor="middle" fill="#111" stroke="#111" stroke-width="0.2">12</text>
<text x="208.5" y="759.5" font-size="6.45" font-weight="bold" text-anchor="middle" fill="#111" stroke="#111" stroke-width="0.2">Fold enrichment over non-essential genome</text>
<rect x="425" y="607.7" width="167.72" height="9.3" fill="#56237F"/>
<text x="419" y="614.21" font-size="6.2" font-weight="bold" text-anchor="end" fill="#111" stroke="#111" stroke-width="0.2">extracellular region</text>
<rect x="425" y="621.46" width="78.02" height="9.3" fill="#56237F"/>
<text x="419" y="627.97" font-size="6.2" font-weight="bold" text-anchor="end" fill="#111" stroke="#111" stroke-width="0.2">cytoskeleton</text>
<rect x="425" y="635.22" width="70.78" height="9.3" fill="#56237F"/>
<text x="419" y="641.73" font-size="6.2" font-weight="bold" text-anchor="end" fill="#111" stroke="#111" stroke-width="0.2">cell wall</text>
<rect x="425" y="648.98" width="62.84" height="9.3" fill="#56237F"/>
<text x="419" y="655.49" font-size="6.2" font-weight="bold" text-anchor="end" fill="#111" stroke="#111" stroke-width="0.2">Golgi apparatus</text>
<rect x="425" y="662.74" width="36.68" height="9.3" fill="#56237F"/>
<text x="419" y="669.25" font-size="6.2" font-weight="bold" text-anchor="end" fill="#111" stroke="#111" stroke-width="0.2">mitochondrial envelope</text>
<rect x="425" y="676.5" width="35.74" height="9.3" fill="#56237F"/>
<text x="419" y="683.01" font-size="6.2" font-weight="bold" text-anchor="end" fill="#111" stroke="#111" stroke-width="0.2">cytoplasm</text>
<rect x="425" y="690.26" width="34.11" height="9.3" fill="#56237F"/>
<text x="419" y="696.77" font-size="6.2" font-weight="bold" text-anchor="end" fill="#111" stroke="#111" stroke-width="0.2">mitochondrion</text>
<rect x="425" y="704.02" width="30.13" height="9.3" fill="#56237F"/>
<text x="419" y="710.53" font-size="6.2" font-weight="bold" text-anchor="end" fill="#111" stroke="#111" stroke-width="0.2">vacuole</text>
<rect x="425" y="717.78" width="26.86" height="9.3" fill="#56237F"/>
<text x="419" y="724.29" font-size="6.2" font-weight="bold" text-anchor="end" fill="#111" stroke="#111" stroke-width="0.2">cell cortex</text>
<rect x="425" y="731.54" width="20.09" height="9.3" fill="#56237F"/>
<text x="419" y="738.05" font-size="6.2" font-weight="bold" text-anchor="end" fill="#111" stroke="#111" stroke-width="0.2">membrane</text>
<line x1="448.36" y1="606.5" x2="448.36" y2="743.6" stroke="#111" stroke-width="1.1" stroke-dasharray="2.6 1.4"/>
<line x1="425.5" y1="605.5" x2="425.5" y2="744.6" stroke="#222" stroke-width="1.05"/>
<line x1="424.5" y1="743.6" x2="635.74" y2="743.6" stroke="#222" stroke-width="1.1"/>
<line x1="425" y1="743.6" x2="425" y2="745.6" stroke="#222" stroke-width="0.9"/>
<text x="425" y="753.2" font-size="6.2" font-weight="bold" text-anchor="middle" fill="#111" stroke="#111" stroke-width="0.2">0</text>
<line x1="448.36" y1="743.6" x2="448.36" y2="745.6" stroke="#222" stroke-width="0.9"/>
<text x="448.36" y="753.2" font-size="6.2" font-weight="bold" text-anchor="middle" fill="#111" stroke="#111" stroke-width="0.2">1</text>
<line x1="471.72" y1="743.6" x2="471.72" y2="745.6" stroke="#222" stroke-width="0.9"/>
<text x="471.72" y="753.2" font-size="6.2" font-weight="bold" text-anchor="middle" fill="#111" stroke="#111" stroke-width="0.2">2</text>
<line x1="495.08" y1="743.6" x2="495.08" y2="745.6" stroke="#222" stroke-width="0.9"/>
<text x="495.08" y="753.2" font-size="6.2" font-weight="bold" text-anchor="middle" fill="#111" stroke="#111" stroke-width="0.2">3</text>
<line x1="518.44" y1="743.6" x2="518.44" y2="745.6" stroke="#222" stroke-width="0.9"/>
<text x="518.44" y="753.2" font-size="6.2" font-weight="bold" text-anchor="middle" fill="#111" stroke="#111" stroke-width="0.2">4</text>
<line x1="541.8" y1="743.6" x2="541.8" y2="745.6" stroke="#222" stroke-width="0.9"/>
<text x="541.8" y="753.2" font-size="6.2" font-weight="bold" text-anchor="middle" fill="#111" stroke="#111" stroke-width="0.2">5</text>
<line x1="565.16" y1="743.6" x2="565.16" y2="745.6" stroke="#222" stroke-width="0.9"/>
<text x="565.16" y="753.2" font-size="6.2" font-weight="bold" text-anchor="middle" fill="#111" stroke="#111" stroke-width="0.2">6</text>
<line x1="588.52" y1="743.6" x2="588.52" y2="745.6" stroke="#222" stroke-width="0.9"/>
<text x="588.52" y="753.2" font-size="6.2" font-weight="bold" text-anchor="middle" fill="#111" stroke="#111" stroke-width="0.2">7</text>
<line x1="611.88" y1="743.6" x2="611.88" y2="745.6" stroke="#222" stroke-width="0.9"/>
<text x="611.88" y="753.2" font-size="6.2" font-weight="bold" text-anchor="middle" fill="#111" stroke="#111" stroke-width="0.2">8</text>
<line x1="635.24" y1="743.6" x2="635.24" y2="745.6" stroke="#222" stroke-width="0.9"/>
<text x="635.24" y="753.2" font-size="6.2" font-weight="bold" text-anchor="middle" fill="#111" stroke="#111" stroke-width="0.2">9</text>
<text x="530.5" y="763.4" font-size="7" font-weight="bold" text-anchor="middle" fill="#111" stroke="#111" stroke-width="0.2">Fold enrichment over non-essential genome</text>
<rect x="141.2" y="883.94" width="37.3" height="162.85" fill="#8DE6FA" stroke="#111" stroke-width="1.1"/>
<rect x="198.2" y="992.51" width="37.3" height="54.28" fill="#FF2E12" stroke="#111" stroke-width="1.1"/>
<line x1="122.3" y1="839.4" x2="122.3" y2="1046.8" stroke="#111" stroke-width="1.3"/>
<line x1="117.4" y1="1046.8" x2="254.7" y2="1046.8" stroke="#111" stroke-width="1.3"/>
<line x1="117.4" y1="1046.8" x2="122.3" y2="1046.8" stroke="#111" stroke-width="1.2"/>
<text x="115.6" y="1049.8" font-size="8.1" font-weight="bold" text-anchor="end" fill="#111" stroke="#111" stroke-width="0.2">0</text>
<line x1="117.4" y1="995.1" x2="122.3" y2="995.1" stroke="#111" stroke-width="1.2"/>
<text x="115.6" y="998.1" font-size="8.1" font-weight="bold" text-anchor="end" fill="#111" stroke="#111" stroke-width="0.2">20</text>
<line x1="117.4" y1="943.4" x2="122.3" y2="943.4" stroke="#111" stroke-width="1.2"/>
<text x="115.6" y="946.4" font-size="8.1" font-weight="bold" text-anchor="end" fill="#111" stroke="#111" stroke-width="0.2">40</text>
<line x1="117.4" y1="891.7" x2="122.3" y2="891.7" stroke="#111" stroke-width="1.2"/>
<text x="115.6" y="894.7" font-size="8.1" font-weight="bold" text-anchor="end" fill="#111" stroke="#111" stroke-width="0.2">60</text>
<line x1="117.4" y1="840" x2="122.3" y2="840" stroke="#111" stroke-width="1.2"/>
<text x="115.6" y="843" font-size="8.1" font-weight="bold" text-anchor="end" fill="#111" stroke="#111" stroke-width="0.2">80</text>
<line x1="159.8" y1="1046.8" x2="159.8" y2="1051.6" stroke="#111" stroke-width="1.2"/>
<line x1="216.8" y1="1046.8" x2="216.8" y2="1051.6" stroke="#111" stroke-width="1.2"/>
<text x="157.2" y="1059.5" font-size="9.65" text-anchor="middle" fill="#111" stroke="#111" stroke-width="0.2">Unchanged</text>
<text x="216.8" y="1059.5" font-size="9.65" text-anchor="middle" fill="#111" stroke="#111" stroke-width="0.2">Changed</text>
<line x1="130" y1="1063.6" x2="237" y2="1063.6" stroke="#111" stroke-width="1.1"/>
<text x="185" y="1074.6" font-size="9.55" text-anchor="middle" fill="#111" stroke="#111" stroke-width="0.2">Interactions with Ssa1</text>
<text x="0" y="0" font-size="9.55" text-anchor="middle" fill="#111" stroke="#111" stroke-width="0.2" transform="translate(98.2 948.5) rotate(-90)">Number of disordered proteins</text>
<defs>
<radialGradient id="gp" cx="0.5" cy="0.45" r="0.55"><stop offset="0" stop-color="#E9E0F1"/><stop offset="0.45" stop-color="#B08CC8"/><stop offset="1" stop-color="#6A3A93"/></radialGradient>
<radialGradient id="gt" cx="0.5" cy="0.45" r="0.55"><stop offset="0" stop-color="#EEF8F5"/><stop offset="0.45" stop-color="#9DD4C4"/><stop offset="1" stop-color="#4FA88E"/></radialGradient>
<radialGradient id="gk" cx="0.5" cy="0.45" r="0.55"><stop offset="0" stop-color="#FBE5EF"/><stop offset="0.45" stop-color="#F18DB8"/><stop offset="1" stop-color="#E2428A"/></radialGradient>
</defs>
<rect x="419.8" y="847.2" width="101" height="47.6" rx="9" fill="none" stroke="#1B2A6B" stroke-width="2.2" stroke-dasharray="2 1.4"/>
<rect x="419.8" y="898.8" width="101.2" height="46.8" rx="9" fill="none" stroke="#1B2A6B" stroke-width="2.2" stroke-dasharray="2 1.4"/>
<rect x="525.4" y="847.3" width="101.4" height="95.2" rx="13" fill="none" stroke="#1B2A6B" stroke-width="2.2" stroke-dasharray="2 1.4"/>
<rect x="419.8" y="948.8" width="101" height="96.2" rx="12" fill="none" stroke="#1B2A6B" stroke-width="2.2" stroke-dasharray="2 1.4"/>
<rect x="526.6" y="947.8" width="100.6" height="95.6" rx="12" fill="none" stroke="#1B2A6B" stroke-width="2.2" stroke-dasharray="2 1.4"/>
<ellipse cx="445.7" cy="870.2" rx="22.2" ry="19.3" fill="url(#gp)"/>
<ellipse cx="493" cy="869.3" rx="22.2" ry="19.3" fill="url(#gt)"/>
<ellipse cx="445.9" cy="921.2" rx="22.2" ry="19.3" fill="url(#gp)"/>
<ellipse cx="495" cy="921.5" rx="22.2" ry="19.3" fill="url(#gt)"/>
<ellipse cx="552.4" cy="872.2" rx="22.2" ry="19.3" fill="url(#gp)"/>
<ellipse cx="598.6" cy="873.5" rx="22.2" ry="19.3" fill="url(#gp)"/>
<ellipse cx="599.3" cy="915.2" rx="22.2" ry="19.3" fill="url(#gp)"/>
<ellipse cx="445.7" cy="974.9" rx="22.2" ry="19.3" fill="url(#gt)"/>
<ellipse cx="493.5" cy="974.9" rx="22.2" ry="19.3" fill="url(#gt)"/>
<ellipse cx="445.7" cy="1017.2" rx="22.2" ry="19.3" fill="url(#gp)"/>
<ellipse cx="494.5" cy="1018" rx="22.2" ry="19.3" fill="url(#gt)"/>
<ellipse cx="552.5" cy="974.2" rx="22.2" ry="19.3" fill="url(#gt)"/>
<ellipse cx="601" cy="974.2" rx="22.2" ry="19.3" fill="url(#gk)"/>
<ellipse cx="553.3" cy="1017.1" rx="22.2" ry="19.3" fill="url(#gk)"/>
<ellipse cx="602.7" cy="1016.2" rx="22.2" ry="19.3" fill="url(#gk)"/>
<text x="426" y="875.1" font-size="12.9" font-weight="bold" fill="#111" stroke="#111" stroke-width="0.25" letter-spacing="-0.243">Hsp10</text>
<text x="473.1" y="873.2" font-size="12.9" font-weight="bold" fill="#111" stroke="#111" stroke-width="0.25" letter-spacing="-0.503">Hsp60</text>
<text x="432.2" y="925.8" font-size="12.9" font-weight="bold" fill="#111" stroke="#111" stroke-width="0.25" letter-spacing="0.340">Ydj1</text>
<text x="480.9" y="926.4" font-size="12.9" font-weight="bold" fill="#111" stroke="#111" stroke-width="0.25" letter-spacing="0.266">Sis1</text>
<text x="536" y="876.4" font-size="12.9" font-weight="bold" fill="#111" stroke="#111" stroke-width="0.25" letter-spacing="0.487">Sgt2</text>
<text x="585.6" y="878.2" font-size="12.9" font-weight="bold" fill="#111" stroke="#111" stroke-width="0.25" letter-spacing="0.111">Sti1</text>
<text x="579" y="919" font-size="12.9" font-weight="bold" fill="#111" stroke="#111" stroke-width="0.25" letter-spacing="-0.343">Hsp82</text>
<text x="430.1" y="979.9" font-size="12.9" font-weight="bold" fill="#111" stroke="#111" stroke-width="0.25" letter-spacing="0.417">Ssb1</text>
<text x="477.7" y="979.9" font-size="12.9" font-weight="bold" fill="#111" stroke="#111" stroke-width="0.25" letter-spacing="0.594">Ssc1</text>
<text x="429" y="1022" font-size="12.9" font-weight="bold" fill="#111" stroke="#111" stroke-width="0.25" letter-spacing="0.375">Ssz1</text>
<text x="479.1" y="1022.3" font-size="12.9" font-weight="bold" fill="#111" stroke="#111" stroke-width="0.25" letter-spacing="0.604">Kar2</text>
<text x="536.9" y="979.4" font-size="12.9" font-weight="bold" fill="#111" stroke="#111" stroke-width="0.25" letter-spacing="0.294">Sse1</text>
<text x="585.6" y="979.4" font-size="12.9" font-weight="bold" fill="#111" stroke="#111" stroke-width="0.25" letter-spacing="0.594">Sse2</text>
<text x="537.8" y="1022.3" font-size="12.9" font-weight="bold" fill="#111" stroke="#111" stroke-width="0.25" letter-spacing="0.250">Fes1</text>
<text x="587.4" y="1021" font-size="12.9" font-weight="bold" fill="#111" stroke="#111" stroke-width="0.25" letter-spacing="0.249">Lhs1</text>
<text x="343.3" y="871" font-size="10.7" font-weight="bold" text-anchor="start" fill="#111" stroke="#111" stroke-width="0.2">Mitochondrial</text>
<text x="343.3" y="883.6" font-size="10.7" font-weight="bold" text-anchor="start" fill="#111" stroke="#111" stroke-width="0.2">chaperones</text>
<text x="410.2" y="921.6" font-size="10.7" font-weight="bold" text-anchor="end" fill="#111" stroke="#111" stroke-width="0.2">J-proteins</text>
<text x="536.3" y="828.8" font-size="10.7" font-weight="bold" text-anchor="start" fill="#111" stroke="#111" stroke-width="0.2">Hsp90 and</text>
<text x="536.3" y="841.9" font-size="10.7" font-weight="bold" text-anchor="start" fill="#111" stroke="#111" stroke-width="0.2">co-chaperones</text>
<text x="470.7" y="1057.9" font-size="10.7" font-weight="bold" text-anchor="middle" fill="#111" stroke="#111" stroke-width="0.2">Hsp70 paralogs</text>
<text x="524.8" y="1057.2" font-size="10.7" font-weight="bold" text-anchor="start" fill="#111" stroke="#111" stroke-width="0.2">Nucleotide exchange</text>
<text x="524.8" y="1069.6" font-size="10.7" font-weight="bold" text-anchor="start" fill="#111" stroke="#111" stroke-width="0.2">factors (NEFs)</text>
<rect x="463" y="1079" width="10.3" height="11" rx="1.5" fill="#E8407F"/>
<text x="475.8" y="1087.2" font-size="7.7" font-weight="bold" text-anchor="start" fill="#111" stroke="#111" stroke-width="0.2">Preferred interaction with WT</text>
<rect x="463" y="1092.5" width="10.3" height="11" rx="1.5" fill="#4FAE94"/>
<text x="475.8" y="1100.7" font-size="7.7" font-weight="bold" text-anchor="start" fill="#111" stroke="#111" stroke-width="0.2">Equal interaction for WT and T492A</text>
<rect x="463" y="1106" width="10.3" height="11" rx="1.5" fill="#5A2C88"/>
<text x="475.8" y="1114.2" font-size="7.7" font-weight="bold" text-anchor="start" fill="#111" stroke="#111" stroke-width="0.2">Preferred interaction with T492A</text>
</svg>
</body></html>
